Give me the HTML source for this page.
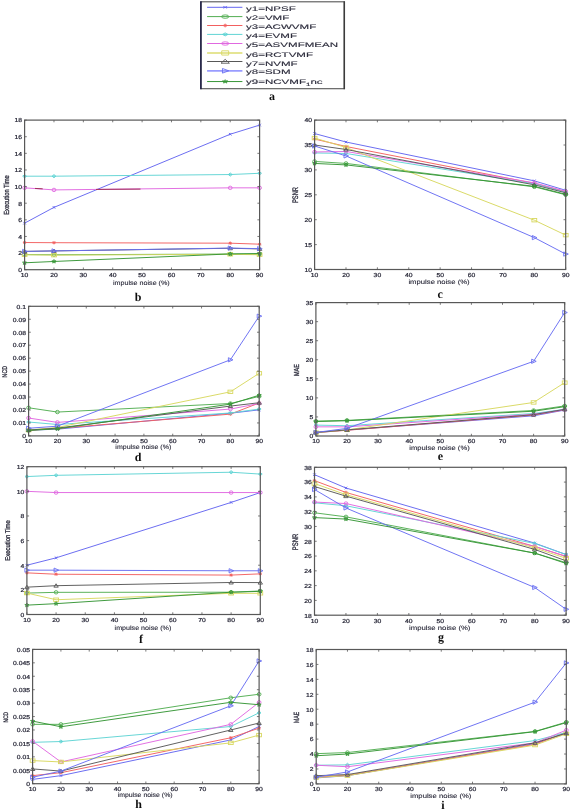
<!DOCTYPE html>
<html><head><meta charset="utf-8"><title>Figure</title>
<style>
html,body{margin:0;padding:0;background:#fff;}
body{width:572px;height:811px;overflow:hidden;font-family:"Liberation Sans",sans-serif;}
svg{display:block;}
</style></head><body>
<svg width="572" height="811" viewBox="0 0 572 811" text-rendering="geometricPrecision">
<defs><filter id="bl" x="0" y="0" width="1" height="1"><feGaussianBlur stdDeviation="0.35"/></filter></defs>
<rect width="572" height="811" fill="#fff"/>
<g filter="url(#bl)">
<rect width="572" height="811" fill="#fff"/>
<rect x="200.9" y="1.8" width="143.4" height="86.9" stroke="#555" stroke-width="1.1" fill="#fff"/>
<line x1="200.9" y1="1.3" x2="200.9" y2="89.2" stroke="#1a1a40" stroke-width="1.5"/>
<line x1="344.3" y1="1.3" x2="344.3" y2="89.2" stroke="#3a3a3a" stroke-width="1.5"/>
<line x1="207.1" y1="7.3" x2="242.4" y2="7.3" stroke="#6466f0" stroke-width="1.0"/>
<g transform="translate(225.2,7.3) scale(1.45,0.7)"><path d="M-1.30,-1.30L1.30,1.30M-1.30,1.30L1.30,-1.30" stroke="#6466f0" stroke-width="0.9" fill="none" vector-effect="non-scaling-stroke"/></g>
<text transform="translate(246,10.80) scale(1.75,1)" font-family="Liberation Sans" font-size="6.6" fill="#2a2a3a" stroke="#2a2a3a" stroke-width="0.12">y1=NPSF</text>
<line x1="207.1" y1="16.6" x2="242.4" y2="16.6" stroke="#52ae52" stroke-width="1.0"/>
<g transform="translate(225.2,16.6) scale(1.95,1.0)"><ellipse cx="0.00" cy="0.00" rx="1.90" ry="1.70" stroke="#52ae52" stroke-width="0.9" fill="none" vector-effect="non-scaling-stroke"/></g>
<text transform="translate(246,19.70) scale(1.75,1)" font-family="Liberation Sans" font-size="6.6" fill="#2a2a3a" stroke="#2a2a3a" stroke-width="0.12">y2=VMF</text>
<line x1="207.1" y1="25.5" x2="242.4" y2="25.5" stroke="#f26060" stroke-width="1.0"/>
<g transform="translate(225.2,25.5) scale(1.0,1.1)"><path d="M-1.70,0.00L1.70,0.00M0.00,-1.70L0.00,1.70M-1.19,-1.19L1.19,1.19M-1.19,1.19L1.19,-1.19" stroke="#f26060" stroke-width="0.9" fill="none" vector-effect="non-scaling-stroke"/></g>
<text transform="translate(246,29.10) scale(1.75,1)" font-family="Liberation Sans" font-size="6.6" fill="#2a2a3a" stroke="#2a2a3a" stroke-width="0.12">y3=ACWVMF</text>
<line x1="207.1" y1="34.4" x2="242.4" y2="34.4" stroke="#60d4d4" stroke-width="1.0"/>
<g transform="translate(225.2,34.4) scale(1.45,0.95)"><path d="M0.00,-1.60L1.90,0.00L0.00,1.60L-1.90,0.00Z" stroke="#60d4d4" stroke-width="0.9" fill="#60d4d4" fill-opacity="0.4" vector-effect="non-scaling-stroke"/></g>
<text transform="translate(246,37.90) scale(1.75,1)" font-family="Liberation Sans" font-size="6.6" fill="#2a2a3a" stroke="#2a2a3a" stroke-width="0.12">y4=EVMF</text>
<line x1="207.1" y1="43.5" x2="242.4" y2="43.5" stroke="#e068e0" stroke-width="1.0"/>
<g transform="translate(225.2,43.5) scale(1.95,1.0)"><ellipse cx="0.00" cy="0.00" rx="1.90" ry="1.70" stroke="#e068e0" stroke-width="0.9" fill="none" vector-effect="non-scaling-stroke"/></g>
<text transform="translate(246,47.00) scale(1.75,1)" font-family="Liberation Sans" font-size="6.6" fill="#2a2a3a" stroke="#2a2a3a" stroke-width="0.12">y5=ASVMFMEAN</text>
<line x1="207.1" y1="52.95" x2="242.4" y2="52.95" stroke="#dcdc70" stroke-width="1.4"/>
<g transform="translate(225.2,52.95) scale(1.45,1.25)"><rect x="-2.40" y="-1.70" width="4.80" height="3.40" stroke="#d8d860" stroke-width="0.9" fill="none" vector-effect="non-scaling-stroke"/></g>
<text transform="translate(246,56.50) scale(1.75,1)" font-family="Liberation Sans" font-size="6.6" fill="#2a2a3a" stroke="#2a2a3a" stroke-width="0.12">y6=RCTVMF</text>
<line x1="207.1" y1="61.5" x2="242.4" y2="61.5" stroke="#585858" stroke-width="1.0"/>
<g transform="translate(225.2,61.5) scale(1.9,1.15)"><path d="M0.00,-1.90L2.20,1.50L-2.20,1.50Z" stroke="#585858" stroke-width="0.9" fill="none" vector-effect="non-scaling-stroke"/></g>
<text transform="translate(246,65.60) scale(1.75,1)" font-family="Liberation Sans" font-size="6.6" fill="#2a2a3a" stroke="#2a2a3a" stroke-width="0.12">y7=NVMF</text>
<line x1="207.1" y1="70.8" x2="242.4" y2="70.8" stroke="#9a9cff" stroke-width="1.8"/>
<g transform="translate(225.2,70.8) scale(1.37,1.1)"><path d="M-2.00,-2.10L2.60,0.00L-2.00,2.10Z" stroke="#686ef2" stroke-width="0.9" fill="none" vector-effect="non-scaling-stroke"/></g>
<text transform="translate(246,74.40) scale(1.75,1)" font-family="Liberation Sans" font-size="6.6" fill="#2a2a3a" stroke="#2a2a3a" stroke-width="0.12">y8=SDM</text>
<line x1="207.1" y1="81.55" x2="242.4" y2="81.55" stroke="#369636" stroke-width="1.0"/>
<g transform="translate(225.2,81.55) scale(1.3,0.95)"><polygon points="0.00,-2.00 0.58,-0.73 2.09,-0.62 0.94,0.28 1.29,1.62 0.00,0.90 -1.29,1.62 -0.94,0.28 -2.09,-0.62 -0.58,-0.73" stroke="#369636" stroke-width="0.8" fill="#369636" fill-opacity="0.5" vector-effect="non-scaling-stroke"/></g>
<text transform="translate(246,83.50) scale(1.75,1)" font-family="Liberation Sans" font-size="6.6" fill="#2a2a3a" stroke="#2a2a3a" stroke-width="0.12">y9=NCVMF<tspan font-size="4.6" dy="2.4">1</tspan><tspan dy="-2.4">nc</tspan></text>
<text x="271.9" y="100.3" font-family="Liberation Serif" font-weight="bold" font-size="12" text-anchor="middle" fill="#111">a</text>
<polyline points="24.60,223.16 53.98,207.37 230.23,134.23 259.60,125.09" stroke="#6466f0" stroke-width="0.95" fill="none"/>
<path d="M23.30,221.86L25.90,224.46M23.30,224.46L25.90,221.86" stroke="#6466f0" stroke-width="0.9" fill="none"/>
<path d="M52.68,206.07L55.28,208.67M52.68,208.67L55.28,206.07" stroke="#6466f0" stroke-width="0.9" fill="none"/>
<path d="M228.93,132.93L231.53,135.53M228.93,135.53L231.53,132.93" stroke="#6466f0" stroke-width="0.9" fill="none"/>
<path d="M258.30,123.79L260.90,126.39M258.30,126.39L260.90,123.79" stroke="#6466f0" stroke-width="0.9" fill="none"/>
<polyline points="24.60,254.57 53.98,254.74 230.23,254.08 259.60,254.32" stroke="#52ae52" stroke-width="0.95" fill="none"/>
<ellipse cx="24.60" cy="254.57" rx="1.90" ry="1.70" stroke="#52ae52" stroke-width="0.9" fill="none"/>
<ellipse cx="53.98" cy="254.74" rx="1.90" ry="1.70" stroke="#52ae52" stroke-width="0.9" fill="none"/>
<ellipse cx="230.23" cy="254.08" rx="1.90" ry="1.70" stroke="#52ae52" stroke-width="0.9" fill="none"/>
<ellipse cx="259.60" cy="254.32" rx="1.90" ry="1.70" stroke="#52ae52" stroke-width="0.9" fill="none"/>
<polyline points="24.60,242.52 53.98,242.69 230.23,243.19 259.60,244.18" stroke="#f26060" stroke-width="0.95" fill="none"/>
<path d="M22.90,242.52L26.30,242.52M24.60,240.82L24.60,244.22M23.41,241.33L25.79,243.71M23.41,243.71L25.79,241.33" stroke="#f26060" stroke-width="0.9" fill="none"/>
<path d="M52.28,242.69L55.68,242.69M53.98,240.99L53.98,244.39M52.79,241.50L55.17,243.88M52.79,243.88L55.17,241.50" stroke="#f26060" stroke-width="0.9" fill="none"/>
<path d="M228.53,243.19L231.93,243.19M230.23,241.49L230.23,244.89M229.04,242.00L231.42,244.38M229.04,244.38L231.42,242.00" stroke="#f26060" stroke-width="0.9" fill="none"/>
<path d="M257.90,244.18L261.30,244.18M259.60,242.48L259.60,245.88M258.41,242.99L260.79,245.37M258.41,245.37L260.79,242.99" stroke="#f26060" stroke-width="0.9" fill="none"/>
<polyline points="24.60,176.20 53.98,176.20 230.23,174.54 259.60,173.29" stroke="#60d4d4" stroke-width="0.95" fill="none"/>
<path d="M24.60,174.60L26.50,176.20L24.60,177.80L22.70,176.20Z" stroke="#60d4d4" stroke-width="0.9" fill="#60d4d4" fill-opacity="0.4"/>
<path d="M53.98,174.60L55.88,176.20L53.98,177.80L52.08,176.20Z" stroke="#60d4d4" stroke-width="0.9" fill="#60d4d4" fill-opacity="0.4"/>
<path d="M230.23,172.94L232.13,174.54L230.23,176.14L228.33,174.54Z" stroke="#60d4d4" stroke-width="0.9" fill="#60d4d4" fill-opacity="0.4"/>
<path d="M259.60,171.69L261.50,173.29L259.60,174.89L257.70,173.29Z" stroke="#60d4d4" stroke-width="0.9" fill="#60d4d4" fill-opacity="0.4"/>
<polyline points="24.60,187.84 53.98,189.91 230.23,187.84 259.60,187.84" stroke="#e068e0" stroke-width="0.95" fill="none"/>
<ellipse cx="24.60" cy="187.84" rx="1.90" ry="1.70" stroke="#e068e0" stroke-width="0.9" fill="none"/>
<ellipse cx="53.98" cy="189.91" rx="1.90" ry="1.70" stroke="#e068e0" stroke-width="0.9" fill="none"/>
<ellipse cx="230.23" cy="187.84" rx="1.90" ry="1.70" stroke="#e068e0" stroke-width="0.9" fill="none"/>
<ellipse cx="259.60" cy="187.84" rx="1.90" ry="1.70" stroke="#e068e0" stroke-width="0.9" fill="none"/>
<polyline points="24.60,254.74 53.98,255.16 230.23,254.32 259.60,254.74" stroke="#d8d860" stroke-width="0.95" fill="none"/>
<rect x="22.20" y="253.04" width="4.80" height="3.40" stroke="#d8d860" stroke-width="0.9" fill="none"/>
<rect x="51.58" y="253.46" width="4.80" height="3.40" stroke="#d8d860" stroke-width="0.9" fill="none"/>
<rect x="227.83" y="252.62" width="4.80" height="3.40" stroke="#d8d860" stroke-width="0.9" fill="none"/>
<rect x="257.20" y="253.04" width="4.80" height="3.40" stroke="#d8d860" stroke-width="0.9" fill="none"/>
<polyline points="24.60,251.42 53.98,250.92 230.23,248.26 259.60,248.92" stroke="#585858" stroke-width="0.95" fill="none"/>
<path d="M24.60,249.52L26.80,252.92L22.40,252.92Z" stroke="#585858" stroke-width="0.9" fill="none"/>
<path d="M53.98,249.02L56.18,252.42L51.78,252.42Z" stroke="#585858" stroke-width="0.9" fill="none"/>
<path d="M230.23,246.36L232.43,249.76L228.03,249.76Z" stroke="#585858" stroke-width="0.9" fill="none"/>
<path d="M259.60,247.02L261.80,250.42L257.40,250.42Z" stroke="#585858" stroke-width="0.9" fill="none"/>
<polyline points="24.60,251.42 53.98,250.92 230.23,248.09 259.60,248.67" stroke="#686ef2" stroke-width="0.95" fill="none"/>
<path d="M22.60,249.32L27.20,251.42L22.60,253.52Z" stroke="#686ef2" stroke-width="0.9" fill="none"/>
<path d="M51.98,248.82L56.58,250.92L51.98,253.02Z" stroke="#686ef2" stroke-width="0.9" fill="none"/>
<path d="M228.23,245.99L232.83,248.09L228.23,250.19Z" stroke="#686ef2" stroke-width="0.9" fill="none"/>
<path d="M257.60,246.57L262.20,248.67L257.60,250.77Z" stroke="#686ef2" stroke-width="0.9" fill="none"/>
<polyline points="24.60,262.80 53.98,261.47 230.23,253.91 259.60,253.49" stroke="#369636" stroke-width="0.95" fill="none"/>
<polygon points="24.60,260.80 25.18,262.07 26.69,262.18 25.54,263.08 25.89,264.42 24.60,263.70 23.31,264.42 23.66,263.08 22.51,262.18 24.02,262.07" stroke="#369636" stroke-width="0.8" fill="#369636" fill-opacity="0.5"/>
<polygon points="53.98,259.47 54.56,260.74 56.07,260.85 54.92,261.75 55.27,263.09 53.98,262.37 52.68,263.09 53.03,261.75 51.88,260.85 53.39,260.74" stroke="#369636" stroke-width="0.8" fill="#369636" fill-opacity="0.5"/>
<polygon points="230.23,251.91 230.81,253.18 232.32,253.29 231.17,254.19 231.52,255.53 230.23,254.81 228.93,255.53 229.28,254.19 228.13,253.29 229.64,253.18" stroke="#369636" stroke-width="0.8" fill="#369636" fill-opacity="0.5"/>
<polygon points="259.60,251.49 260.18,252.77 261.69,252.88 260.54,253.77 260.89,255.11 259.60,254.39 258.31,255.11 258.66,253.77 257.51,252.88 259.02,252.77" stroke="#369636" stroke-width="0.8" fill="#369636" fill-opacity="0.5"/>
<line x1="96" y1="189.41" x2="140.5" y2="189.08" stroke="#a0305a" stroke-width="1.0"/>
<line x1="35" y1="188.42" x2="42.7" y2="188.83" stroke="#a0305a" stroke-width="1.0"/>
<rect x="24.60" y="120.10" width="235.00" height="149.60" stroke="#585858" stroke-width="1.2" fill="none"/>
<path d="M24.60,269.70v-2.2M24.60,120.10v2.2M53.98,269.70v-2.2M53.98,120.10v2.2M83.35,269.70v-2.2M83.35,120.10v2.2M112.73,269.70v-2.2M112.73,120.10v2.2M142.10,269.70v-2.2M142.10,120.10v2.2M171.48,269.70v-2.2M171.48,120.10v2.2M200.85,269.70v-2.2M200.85,120.10v2.2M230.23,269.70v-2.2M230.23,120.10v2.2M259.60,269.70v-2.2M259.60,120.10v2.2M24.60,269.70h2.2M259.60,269.70h-2.2M24.60,253.08h2.2M259.60,253.08h-2.2M24.60,236.46h2.2M259.60,236.46h-2.2M24.60,219.83h2.2M259.60,219.83h-2.2M24.60,203.21h2.2M259.60,203.21h-2.2M24.60,186.59h2.2M259.60,186.59h-2.2M24.60,169.97h2.2M259.60,169.97h-2.2M24.60,153.34h2.2M259.60,153.34h-2.2M24.60,136.72h2.2M259.60,136.72h-2.2M24.60,120.10h2.2M259.60,120.10h-2.2" stroke="#585858" stroke-width="0.8" fill="none"/>
<text transform="translate(24.60,277.10) scale(1.17,1)" font-family="Liberation Sans" font-size="5.8" font-weight="normal" text-anchor="middle" fill="#2a2a3a" stroke="#2a2a3a" stroke-width="0.22">10</text>
<text transform="translate(53.98,277.10) scale(1.17,1)" font-family="Liberation Sans" font-size="5.8" font-weight="normal" text-anchor="middle" fill="#2a2a3a" stroke="#2a2a3a" stroke-width="0.22">20</text>
<text transform="translate(83.35,277.10) scale(1.17,1)" font-family="Liberation Sans" font-size="5.8" font-weight="normal" text-anchor="middle" fill="#2a2a3a" stroke="#2a2a3a" stroke-width="0.22">30</text>
<text transform="translate(112.73,277.10) scale(1.17,1)" font-family="Liberation Sans" font-size="5.8" font-weight="normal" text-anchor="middle" fill="#2a2a3a" stroke="#2a2a3a" stroke-width="0.22">40</text>
<text transform="translate(142.10,277.10) scale(1.17,1)" font-family="Liberation Sans" font-size="5.8" font-weight="normal" text-anchor="middle" fill="#2a2a3a" stroke="#2a2a3a" stroke-width="0.22">50</text>
<text transform="translate(171.48,277.10) scale(1.17,1)" font-family="Liberation Sans" font-size="5.8" font-weight="normal" text-anchor="middle" fill="#2a2a3a" stroke="#2a2a3a" stroke-width="0.22">60</text>
<text transform="translate(200.85,277.10) scale(1.17,1)" font-family="Liberation Sans" font-size="5.8" font-weight="normal" text-anchor="middle" fill="#2a2a3a" stroke="#2a2a3a" stroke-width="0.22">70</text>
<text transform="translate(230.23,277.10) scale(1.17,1)" font-family="Liberation Sans" font-size="5.8" font-weight="normal" text-anchor="middle" fill="#2a2a3a" stroke="#2a2a3a" stroke-width="0.22">80</text>
<text transform="translate(259.60,277.10) scale(1.17,1)" font-family="Liberation Sans" font-size="5.8" font-weight="normal" text-anchor="middle" fill="#2a2a3a" stroke="#2a2a3a" stroke-width="0.22">90</text>
<text transform="translate(22.00,272.00) scale(1.17,1)" font-family="Liberation Sans" font-size="5.8" font-weight="normal" text-anchor="end" fill="#2a2a3a" stroke="#2a2a3a" stroke-width="0.22">0</text>
<text transform="translate(22.00,255.38) scale(1.17,1)" font-family="Liberation Sans" font-size="5.8" font-weight="normal" text-anchor="end" fill="#2a2a3a" stroke="#2a2a3a" stroke-width="0.22">2</text>
<text transform="translate(22.00,238.76) scale(1.17,1)" font-family="Liberation Sans" font-size="5.8" font-weight="normal" text-anchor="end" fill="#2a2a3a" stroke="#2a2a3a" stroke-width="0.22">4</text>
<text transform="translate(22.00,222.13) scale(1.17,1)" font-family="Liberation Sans" font-size="5.8" font-weight="normal" text-anchor="end" fill="#2a2a3a" stroke="#2a2a3a" stroke-width="0.22">6</text>
<text transform="translate(22.00,205.51) scale(1.17,1)" font-family="Liberation Sans" font-size="5.8" font-weight="normal" text-anchor="end" fill="#2a2a3a" stroke="#2a2a3a" stroke-width="0.22">8</text>
<text transform="translate(22.00,188.89) scale(1.17,1)" font-family="Liberation Sans" font-size="5.8" font-weight="normal" text-anchor="end" fill="#2a2a3a" stroke="#2a2a3a" stroke-width="0.22">10</text>
<text transform="translate(22.00,172.27) scale(1.17,1)" font-family="Liberation Sans" font-size="5.8" font-weight="normal" text-anchor="end" fill="#2a2a3a" stroke="#2a2a3a" stroke-width="0.22">12</text>
<text transform="translate(22.00,155.64) scale(1.17,1)" font-family="Liberation Sans" font-size="5.8" font-weight="normal" text-anchor="end" fill="#2a2a3a" stroke="#2a2a3a" stroke-width="0.22">14</text>
<text transform="translate(22.00,139.02) scale(1.17,1)" font-family="Liberation Sans" font-size="5.8" font-weight="normal" text-anchor="end" fill="#2a2a3a" stroke="#2a2a3a" stroke-width="0.22">16</text>
<text transform="translate(22.00,122.40) scale(1.17,1)" font-family="Liberation Sans" font-size="5.8" font-weight="normal" text-anchor="end" fill="#2a2a3a" stroke="#2a2a3a" stroke-width="0.22">18</text>
<text transform="translate(141.30,284.80) scale(1.1349,1)" font-family="Liberation Sans" font-size="6.3" font-weight="normal" text-anchor="middle" fill="#2a2a3a" stroke="#2a2a3a" stroke-width="0.12">impulse noise (%)</text>
<text transform="translate(8.90,195.00) rotate(-90) scale(0.782,1)" font-family="Liberation Sans" font-size="7.4" text-anchor="middle" fill="#2a2a3a" stroke="#2a2a3a" stroke-width="0.3">Execution Time</text>
<text x="138.20" y="300.50" font-family="Liberation Serif" font-weight="bold" font-size="12" text-anchor="middle" fill="#111">b</text>
<polyline points="314.60,133.55 345.99,142.01 534.31,180.86 565.70,190.32" stroke="#6466f0" stroke-width="0.95" fill="none"/>
<path d="M313.30,132.25L315.90,134.85M313.30,134.85L315.90,132.25" stroke="#6466f0" stroke-width="0.9" fill="none"/>
<path d="M344.69,140.71L347.29,143.31M344.69,143.31L347.29,140.71" stroke="#6466f0" stroke-width="0.9" fill="none"/>
<path d="M533.01,179.56L535.61,182.16M533.01,182.16L535.61,179.56" stroke="#6466f0" stroke-width="0.9" fill="none"/>
<path d="M564.40,189.02L567.00,191.62M564.40,191.62L567.00,189.02" stroke="#6466f0" stroke-width="0.9" fill="none"/>
<polyline points="314.60,161.43 345.99,163.43 534.31,186.83 565.70,194.80" stroke="#52ae52" stroke-width="0.95" fill="none"/>
<ellipse cx="314.60" cy="161.43" rx="1.90" ry="1.70" stroke="#52ae52" stroke-width="0.9" fill="none"/>
<ellipse cx="345.99" cy="163.43" rx="1.90" ry="1.70" stroke="#52ae52" stroke-width="0.9" fill="none"/>
<ellipse cx="534.31" cy="186.83" rx="1.90" ry="1.70" stroke="#52ae52" stroke-width="0.9" fill="none"/>
<ellipse cx="565.70" cy="194.80" rx="1.90" ry="1.70" stroke="#52ae52" stroke-width="0.9" fill="none"/>
<polyline points="314.60,139.02 345.99,146.49 534.31,183.35 565.70,191.81" stroke="#f26060" stroke-width="0.95" fill="none"/>
<path d="M312.90,139.02L316.30,139.02M314.60,137.32L314.60,140.72M313.41,137.83L315.79,140.21M313.41,140.21L315.79,137.83" stroke="#f26060" stroke-width="0.9" fill="none"/>
<path d="M344.29,146.49L347.69,146.49M345.99,144.79L345.99,148.19M344.80,145.30L347.18,147.68M344.80,147.68L347.18,145.30" stroke="#f26060" stroke-width="0.9" fill="none"/>
<path d="M532.61,183.35L536.01,183.35M534.31,181.65L534.31,185.05M533.12,182.16L535.50,184.54M533.12,184.54L535.50,182.16" stroke="#f26060" stroke-width="0.9" fill="none"/>
<path d="M564.00,191.81L567.40,191.81M565.70,190.11L565.70,193.51M564.51,190.62L566.89,193.00M564.51,193.00L566.89,190.62" stroke="#f26060" stroke-width="0.9" fill="none"/>
<polyline points="314.60,152.97 345.99,153.47 534.31,183.84 565.70,192.31" stroke="#60d4d4" stroke-width="0.95" fill="none"/>
<path d="M314.60,151.37L316.50,152.97L314.60,154.57L312.70,152.97Z" stroke="#60d4d4" stroke-width="0.9" fill="#60d4d4" fill-opacity="0.4"/>
<path d="M345.99,151.87L347.89,153.47L345.99,155.07L344.09,153.47Z" stroke="#60d4d4" stroke-width="0.9" fill="#60d4d4" fill-opacity="0.4"/>
<path d="M534.31,182.24L536.21,183.84L534.31,185.44L532.41,183.84Z" stroke="#60d4d4" stroke-width="0.9" fill="#60d4d4" fill-opacity="0.4"/>
<path d="M565.70,190.71L567.60,192.31L565.70,193.91L563.80,192.31Z" stroke="#60d4d4" stroke-width="0.9" fill="#60d4d4" fill-opacity="0.4"/>
<polyline points="314.60,151.97 345.99,151.47 534.31,182.85 565.70,191.31" stroke="#e068e0" stroke-width="0.95" fill="none"/>
<ellipse cx="314.60" cy="151.97" rx="1.90" ry="1.70" stroke="#e068e0" stroke-width="0.9" fill="none"/>
<ellipse cx="345.99" cy="151.47" rx="1.90" ry="1.70" stroke="#e068e0" stroke-width="0.9" fill="none"/>
<ellipse cx="534.31" cy="182.85" rx="1.90" ry="1.70" stroke="#e068e0" stroke-width="0.9" fill="none"/>
<ellipse cx="565.70" cy="191.31" rx="1.90" ry="1.70" stroke="#e068e0" stroke-width="0.9" fill="none"/>
<polyline points="314.60,138.03 345.99,147.49 534.31,220.20 565.70,235.14" stroke="#d8d860" stroke-width="0.95" fill="none"/>
<rect x="312.20" y="136.33" width="4.80" height="3.40" stroke="#d8d860" stroke-width="0.9" fill="none"/>
<rect x="343.59" y="145.79" width="4.80" height="3.40" stroke="#d8d860" stroke-width="0.9" fill="none"/>
<rect x="531.91" y="218.50" width="4.80" height="3.40" stroke="#d8d860" stroke-width="0.9" fill="none"/>
<rect x="563.30" y="233.44" width="4.80" height="3.40" stroke="#d8d860" stroke-width="0.9" fill="none"/>
<polyline points="314.60,145.00 345.99,149.48 534.31,184.84 565.70,192.81" stroke="#585858" stroke-width="0.95" fill="none"/>
<path d="M314.60,143.10L316.80,146.50L312.40,146.50Z" stroke="#585858" stroke-width="0.9" fill="none"/>
<path d="M345.99,147.58L348.19,150.98L343.79,150.98Z" stroke="#585858" stroke-width="0.9" fill="none"/>
<path d="M534.31,182.94L536.51,186.34L532.11,186.34Z" stroke="#585858" stroke-width="0.9" fill="none"/>
<path d="M565.70,190.91L567.90,194.31L563.50,194.31Z" stroke="#585858" stroke-width="0.9" fill="none"/>
<polyline points="314.60,146.00 345.99,155.96 534.31,237.63 565.70,254.06" stroke="#686ef2" stroke-width="0.95" fill="none"/>
<path d="M312.60,143.90L317.20,146.00L312.60,148.10Z" stroke="#686ef2" stroke-width="0.9" fill="none"/>
<path d="M343.99,153.86L348.59,155.96L343.99,158.06Z" stroke="#686ef2" stroke-width="0.9" fill="none"/>
<path d="M532.31,235.53L536.91,237.63L532.31,239.73Z" stroke="#686ef2" stroke-width="0.9" fill="none"/>
<path d="M563.70,251.96L568.30,254.06L563.70,256.16Z" stroke="#686ef2" stroke-width="0.9" fill="none"/>
<polyline points="314.60,163.43 345.99,164.92 534.31,186.33 565.70,194.30" stroke="#369636" stroke-width="0.95" fill="none"/>
<polygon points="314.60,161.43 315.18,162.70 316.69,162.81 315.54,163.70 315.89,165.04 314.60,164.33 313.31,165.04 313.66,163.70 312.51,162.81 314.02,162.70" stroke="#369636" stroke-width="0.8" fill="#369636" fill-opacity="0.5"/>
<polygon points="345.99,162.92 346.57,164.19 348.08,164.30 346.93,165.20 347.28,166.54 345.99,165.82 344.69,166.54 345.05,165.20 343.90,164.30 345.41,164.19" stroke="#369636" stroke-width="0.8" fill="#369636" fill-opacity="0.5"/>
<polygon points="534.31,184.33 534.89,185.61 536.40,185.72 535.25,186.61 535.61,187.95 534.31,187.23 533.02,187.95 533.37,186.61 532.22,185.72 533.73,185.61" stroke="#369636" stroke-width="0.8" fill="#369636" fill-opacity="0.5"/>
<polygon points="565.70,192.30 566.28,193.57 567.79,193.68 566.64,194.58 566.99,195.92 565.70,195.20 564.41,195.92 564.76,194.58 563.61,193.68 565.12,193.57" stroke="#369636" stroke-width="0.8" fill="#369636" fill-opacity="0.5"/>
<rect x="314.60" y="120.10" width="251.10" height="149.40" stroke="#585858" stroke-width="1.2" fill="none"/>
<path d="M314.60,269.50v-2.2M314.60,120.10v2.2M345.99,269.50v-2.2M345.99,120.10v2.2M377.38,269.50v-2.2M377.38,120.10v2.2M408.76,269.50v-2.2M408.76,120.10v2.2M440.15,269.50v-2.2M440.15,120.10v2.2M471.54,269.50v-2.2M471.54,120.10v2.2M502.93,269.50v-2.2M502.93,120.10v2.2M534.31,269.50v-2.2M534.31,120.10v2.2M565.70,269.50v-2.2M565.70,120.10v2.2M314.60,269.50h2.2M565.70,269.50h-2.2M314.60,244.60h2.2M565.70,244.60h-2.2M314.60,219.70h2.2M565.70,219.70h-2.2M314.60,194.80h2.2M565.70,194.80h-2.2M314.60,169.90h2.2M565.70,169.90h-2.2M314.60,145.00h2.2M565.70,145.00h-2.2M314.60,120.10h2.2M565.70,120.10h-2.2" stroke="#585858" stroke-width="0.8" fill="none"/>
<text transform="translate(314.60,276.90) scale(1.17,1)" font-family="Liberation Sans" font-size="5.8" font-weight="normal" text-anchor="middle" fill="#2a2a3a" stroke="#2a2a3a" stroke-width="0.22">10</text>
<text transform="translate(345.99,276.90) scale(1.17,1)" font-family="Liberation Sans" font-size="5.8" font-weight="normal" text-anchor="middle" fill="#2a2a3a" stroke="#2a2a3a" stroke-width="0.22">20</text>
<text transform="translate(377.38,276.90) scale(1.17,1)" font-family="Liberation Sans" font-size="5.8" font-weight="normal" text-anchor="middle" fill="#2a2a3a" stroke="#2a2a3a" stroke-width="0.22">30</text>
<text transform="translate(408.76,276.90) scale(1.17,1)" font-family="Liberation Sans" font-size="5.8" font-weight="normal" text-anchor="middle" fill="#2a2a3a" stroke="#2a2a3a" stroke-width="0.22">40</text>
<text transform="translate(440.15,276.90) scale(1.17,1)" font-family="Liberation Sans" font-size="5.8" font-weight="normal" text-anchor="middle" fill="#2a2a3a" stroke="#2a2a3a" stroke-width="0.22">50</text>
<text transform="translate(471.54,276.90) scale(1.17,1)" font-family="Liberation Sans" font-size="5.8" font-weight="normal" text-anchor="middle" fill="#2a2a3a" stroke="#2a2a3a" stroke-width="0.22">60</text>
<text transform="translate(502.93,276.90) scale(1.17,1)" font-family="Liberation Sans" font-size="5.8" font-weight="normal" text-anchor="middle" fill="#2a2a3a" stroke="#2a2a3a" stroke-width="0.22">70</text>
<text transform="translate(534.31,276.90) scale(1.17,1)" font-family="Liberation Sans" font-size="5.8" font-weight="normal" text-anchor="middle" fill="#2a2a3a" stroke="#2a2a3a" stroke-width="0.22">80</text>
<text transform="translate(565.70,276.90) scale(1.17,1)" font-family="Liberation Sans" font-size="5.8" font-weight="normal" text-anchor="middle" fill="#2a2a3a" stroke="#2a2a3a" stroke-width="0.22">90</text>
<text transform="translate(312.00,271.80) scale(1.17,1)" font-family="Liberation Sans" font-size="5.8" font-weight="normal" text-anchor="end" fill="#2a2a3a" stroke="#2a2a3a" stroke-width="0.22">10</text>
<text transform="translate(312.00,246.90) scale(1.17,1)" font-family="Liberation Sans" font-size="5.8" font-weight="normal" text-anchor="end" fill="#2a2a3a" stroke="#2a2a3a" stroke-width="0.22">15</text>
<text transform="translate(312.00,222.00) scale(1.17,1)" font-family="Liberation Sans" font-size="5.8" font-weight="normal" text-anchor="end" fill="#2a2a3a" stroke="#2a2a3a" stroke-width="0.22">20</text>
<text transform="translate(312.00,197.10) scale(1.17,1)" font-family="Liberation Sans" font-size="5.8" font-weight="normal" text-anchor="end" fill="#2a2a3a" stroke="#2a2a3a" stroke-width="0.22">25</text>
<text transform="translate(312.00,172.20) scale(1.17,1)" font-family="Liberation Sans" font-size="5.8" font-weight="normal" text-anchor="end" fill="#2a2a3a" stroke="#2a2a3a" stroke-width="0.22">30</text>
<text transform="translate(312.00,147.30) scale(1.17,1)" font-family="Liberation Sans" font-size="5.8" font-weight="normal" text-anchor="end" fill="#2a2a3a" stroke="#2a2a3a" stroke-width="0.22">35</text>
<text transform="translate(312.00,122.40) scale(1.17,1)" font-family="Liberation Sans" font-size="5.8" font-weight="normal" text-anchor="end" fill="#2a2a3a" stroke="#2a2a3a" stroke-width="0.22">40</text>
<text transform="translate(439.00,284.30) scale(1.224,1)" font-family="Liberation Sans" font-size="6.3" font-weight="normal" text-anchor="middle" fill="#2a2a3a" stroke="#2a2a3a" stroke-width="0.12">impulse noise (%)</text>
<text transform="translate(297.52,195.00) rotate(-90) scale(0.724,1)" font-family="Liberation Sans" font-size="8.0" text-anchor="middle" fill="#2a2a3a" stroke="#2a2a3a" stroke-width="0.3">PSNR</text>
<text x="440.10" y="297.80" font-family="Liberation Serif" font-weight="bold" font-size="12" text-anchor="middle" fill="#111">c</text>
<polyline points="28.60,430.20 57.42,429.16 230.38,413.22 259.20,409.85" stroke="#6466f0" stroke-width="0.95" fill="none"/>
<path d="M27.30,428.90L29.90,431.50M27.30,431.50L29.90,428.90" stroke="#6466f0" stroke-width="0.9" fill="none"/>
<path d="M56.12,427.86L58.72,430.46M56.12,430.46L58.72,427.86" stroke="#6466f0" stroke-width="0.9" fill="none"/>
<path d="M229.07,411.92L231.68,414.52M229.07,414.52L231.68,411.92" stroke="#6466f0" stroke-width="0.9" fill="none"/>
<path d="M257.90,408.55L260.50,411.15M257.90,411.15L260.50,408.55" stroke="#6466f0" stroke-width="0.9" fill="none"/>
<polyline points="28.60,407.78 57.42,412.05 230.38,403.50 259.20,396.37" stroke="#52ae52" stroke-width="0.95" fill="none"/>
<ellipse cx="28.60" cy="407.78" rx="1.90" ry="1.70" stroke="#52ae52" stroke-width="0.9" fill="none"/>
<ellipse cx="57.42" cy="412.05" rx="1.90" ry="1.70" stroke="#52ae52" stroke-width="0.9" fill="none"/>
<ellipse cx="230.38" cy="403.50" rx="1.90" ry="1.70" stroke="#52ae52" stroke-width="0.9" fill="none"/>
<ellipse cx="259.20" cy="396.37" rx="1.90" ry="1.70" stroke="#52ae52" stroke-width="0.9" fill="none"/>
<polyline points="28.60,430.33 57.42,428.38 230.38,414.13 259.20,402.98" stroke="#f26060" stroke-width="0.95" fill="none"/>
<path d="M26.90,430.33L30.30,430.33M28.60,428.63L28.60,432.03M27.41,429.14L29.79,431.52M27.41,431.52L29.79,429.14" stroke="#f26060" stroke-width="0.9" fill="none"/>
<path d="M55.72,428.38L59.12,428.38M57.42,426.68L57.42,430.08M56.23,427.19L58.61,429.57M56.23,429.57L58.61,427.19" stroke="#f26060" stroke-width="0.9" fill="none"/>
<path d="M228.68,414.13L232.07,414.13M230.38,412.43L230.38,415.83M229.19,412.94L231.56,415.32M229.19,415.32L231.56,412.94" stroke="#f26060" stroke-width="0.9" fill="none"/>
<path d="M257.50,402.98L260.90,402.98M259.20,401.28L259.20,404.68M258.01,401.79L260.39,404.17M258.01,404.17L260.39,401.79" stroke="#f26060" stroke-width="0.9" fill="none"/>
<polyline points="28.60,422.03 57.42,424.50 230.38,412.96 259.20,409.07" stroke="#60d4d4" stroke-width="0.95" fill="none"/>
<path d="M28.60,420.43L30.50,422.03L28.60,423.63L26.70,422.03Z" stroke="#60d4d4" stroke-width="0.9" fill="#60d4d4" fill-opacity="0.4"/>
<path d="M57.42,422.90L59.32,424.50L57.42,426.10L55.52,424.50Z" stroke="#60d4d4" stroke-width="0.9" fill="#60d4d4" fill-opacity="0.4"/>
<path d="M230.38,411.36L232.28,412.96L230.38,414.56L228.47,412.96Z" stroke="#60d4d4" stroke-width="0.9" fill="#60d4d4" fill-opacity="0.4"/>
<path d="M259.20,407.47L261.10,409.07L259.20,410.67L257.30,409.07Z" stroke="#60d4d4" stroke-width="0.9" fill="#60d4d4" fill-opacity="0.4"/>
<polyline points="28.60,418.02 57.42,422.42 230.38,409.07 259.20,403.50" stroke="#e068e0" stroke-width="0.95" fill="none"/>
<ellipse cx="28.60" cy="418.02" rx="1.90" ry="1.70" stroke="#e068e0" stroke-width="0.9" fill="none"/>
<ellipse cx="57.42" cy="422.42" rx="1.90" ry="1.70" stroke="#e068e0" stroke-width="0.9" fill="none"/>
<ellipse cx="230.38" cy="409.07" rx="1.90" ry="1.70" stroke="#e068e0" stroke-width="0.9" fill="none"/>
<ellipse cx="259.20" cy="403.50" rx="1.90" ry="1.70" stroke="#e068e0" stroke-width="0.9" fill="none"/>
<polyline points="28.60,430.07 57.42,427.48 230.38,391.84 259.20,373.30" stroke="#d8d860" stroke-width="0.95" fill="none"/>
<rect x="26.20" y="428.37" width="4.80" height="3.40" stroke="#d8d860" stroke-width="0.9" fill="none"/>
<rect x="55.02" y="425.78" width="4.80" height="3.40" stroke="#d8d860" stroke-width="0.9" fill="none"/>
<rect x="227.97" y="390.14" width="4.80" height="3.40" stroke="#d8d860" stroke-width="0.9" fill="none"/>
<rect x="256.80" y="371.60" width="4.80" height="3.40" stroke="#d8d860" stroke-width="0.9" fill="none"/>
<polyline points="28.60,430.07 57.42,428.12 230.38,406.09 259.20,402.72" stroke="#585858" stroke-width="0.95" fill="none"/>
<path d="M28.60,428.17L30.80,431.57L26.40,431.57Z" stroke="#585858" stroke-width="0.9" fill="none"/>
<path d="M57.42,426.22L59.62,429.62L55.22,429.62Z" stroke="#585858" stroke-width="0.9" fill="none"/>
<path d="M230.38,404.19L232.57,407.59L228.18,407.59Z" stroke="#585858" stroke-width="0.9" fill="none"/>
<path d="M259.20,400.82L261.40,404.22L257.00,404.22Z" stroke="#585858" stroke-width="0.9" fill="none"/>
<polyline points="28.60,428.25 57.42,426.18 230.38,359.82 259.20,316.15" stroke="#686ef2" stroke-width="0.95" fill="none"/>
<path d="M26.60,426.15L31.20,428.25L26.60,430.35Z" stroke="#686ef2" stroke-width="0.9" fill="none"/>
<path d="M55.42,424.08L60.02,426.18L55.42,428.28Z" stroke="#686ef2" stroke-width="0.9" fill="none"/>
<path d="M228.38,357.72L232.97,359.82L228.38,361.92Z" stroke="#686ef2" stroke-width="0.9" fill="none"/>
<path d="M257.20,314.05L261.80,316.15L257.20,318.25Z" stroke="#686ef2" stroke-width="0.9" fill="none"/>
<polyline points="28.60,430.46 57.42,428.77 230.38,404.15 259.20,395.21" stroke="#369636" stroke-width="0.95" fill="none"/>
<polygon points="28.60,428.46 29.18,429.73 30.69,429.84 29.54,430.73 29.89,432.07 28.60,431.36 27.31,432.07 27.66,430.73 26.51,429.84 28.02,429.73" stroke="#369636" stroke-width="0.8" fill="#369636" fill-opacity="0.5"/>
<polygon points="57.42,426.77 58.01,428.04 59.52,428.15 58.37,429.05 58.72,430.39 57.42,429.67 56.13,430.39 56.48,429.05 55.33,428.15 56.84,428.04" stroke="#369636" stroke-width="0.8" fill="#369636" fill-opacity="0.5"/>
<polygon points="230.38,402.15 230.96,403.42 232.47,403.53 231.32,404.43 231.67,405.77 230.38,405.05 229.08,405.77 229.43,404.43 228.28,403.53 229.79,403.42" stroke="#369636" stroke-width="0.8" fill="#369636" fill-opacity="0.5"/>
<polygon points="259.20,393.21 259.78,394.48 261.29,394.59 260.14,395.48 260.49,396.82 259.20,396.11 257.91,396.82 258.26,395.48 257.11,394.59 258.62,394.48" stroke="#369636" stroke-width="0.8" fill="#369636" fill-opacity="0.5"/>
<rect x="28.60" y="306.30" width="230.60" height="129.60" stroke="#585858" stroke-width="1.2" fill="none"/>
<path d="M28.60,435.90v-2.2M28.60,306.30v2.2M57.42,435.90v-2.2M57.42,306.30v2.2M86.25,435.90v-2.2M86.25,306.30v2.2M115.07,435.90v-2.2M115.07,306.30v2.2M143.90,435.90v-2.2M143.90,306.30v2.2M172.72,435.90v-2.2M172.72,306.30v2.2M201.55,435.90v-2.2M201.55,306.30v2.2M230.38,435.90v-2.2M230.38,306.30v2.2M259.20,435.90v-2.2M259.20,306.30v2.2M28.60,435.90h2.2M259.20,435.90h-2.2M28.60,422.94h2.2M259.20,422.94h-2.2M28.60,409.98h2.2M259.20,409.98h-2.2M28.60,397.02h2.2M259.20,397.02h-2.2M28.60,384.06h2.2M259.20,384.06h-2.2M28.60,371.10h2.2M259.20,371.10h-2.2M28.60,358.14h2.2M259.20,358.14h-2.2M28.60,345.18h2.2M259.20,345.18h-2.2M28.60,332.22h2.2M259.20,332.22h-2.2M28.60,319.26h2.2M259.20,319.26h-2.2M28.60,306.30h2.2M259.20,306.30h-2.2" stroke="#585858" stroke-width="0.8" fill="none"/>
<text transform="translate(28.60,443.30) scale(1.17,1)" font-family="Liberation Sans" font-size="5.8" font-weight="normal" text-anchor="middle" fill="#2a2a3a" stroke="#2a2a3a" stroke-width="0.22">10</text>
<text transform="translate(57.42,443.30) scale(1.17,1)" font-family="Liberation Sans" font-size="5.8" font-weight="normal" text-anchor="middle" fill="#2a2a3a" stroke="#2a2a3a" stroke-width="0.22">20</text>
<text transform="translate(86.25,443.30) scale(1.17,1)" font-family="Liberation Sans" font-size="5.8" font-weight="normal" text-anchor="middle" fill="#2a2a3a" stroke="#2a2a3a" stroke-width="0.22">30</text>
<text transform="translate(115.07,443.30) scale(1.17,1)" font-family="Liberation Sans" font-size="5.8" font-weight="normal" text-anchor="middle" fill="#2a2a3a" stroke="#2a2a3a" stroke-width="0.22">40</text>
<text transform="translate(143.90,443.30) scale(1.17,1)" font-family="Liberation Sans" font-size="5.8" font-weight="normal" text-anchor="middle" fill="#2a2a3a" stroke="#2a2a3a" stroke-width="0.22">50</text>
<text transform="translate(172.72,443.30) scale(1.17,1)" font-family="Liberation Sans" font-size="5.8" font-weight="normal" text-anchor="middle" fill="#2a2a3a" stroke="#2a2a3a" stroke-width="0.22">60</text>
<text transform="translate(201.55,443.30) scale(1.17,1)" font-family="Liberation Sans" font-size="5.8" font-weight="normal" text-anchor="middle" fill="#2a2a3a" stroke="#2a2a3a" stroke-width="0.22">70</text>
<text transform="translate(230.38,443.30) scale(1.17,1)" font-family="Liberation Sans" font-size="5.8" font-weight="normal" text-anchor="middle" fill="#2a2a3a" stroke="#2a2a3a" stroke-width="0.22">80</text>
<text transform="translate(259.20,443.30) scale(1.17,1)" font-family="Liberation Sans" font-size="5.8" font-weight="normal" text-anchor="middle" fill="#2a2a3a" stroke="#2a2a3a" stroke-width="0.22">90</text>
<text transform="translate(26.00,438.20) scale(1.17,1)" font-family="Liberation Sans" font-size="5.8" font-weight="normal" text-anchor="end" fill="#2a2a3a" stroke="#2a2a3a" stroke-width="0.22">0</text>
<text transform="translate(26.00,425.24) scale(1.17,1)" font-family="Liberation Sans" font-size="5.8" font-weight="normal" text-anchor="end" fill="#2a2a3a" stroke="#2a2a3a" stroke-width="0.22">0.01</text>
<text transform="translate(26.00,412.28) scale(1.17,1)" font-family="Liberation Sans" font-size="5.8" font-weight="normal" text-anchor="end" fill="#2a2a3a" stroke="#2a2a3a" stroke-width="0.22">0.02</text>
<text transform="translate(26.00,399.32) scale(1.17,1)" font-family="Liberation Sans" font-size="5.8" font-weight="normal" text-anchor="end" fill="#2a2a3a" stroke="#2a2a3a" stroke-width="0.22">0.03</text>
<text transform="translate(26.00,386.36) scale(1.17,1)" font-family="Liberation Sans" font-size="5.8" font-weight="normal" text-anchor="end" fill="#2a2a3a" stroke="#2a2a3a" stroke-width="0.22">0.04</text>
<text transform="translate(26.00,373.40) scale(1.17,1)" font-family="Liberation Sans" font-size="5.8" font-weight="normal" text-anchor="end" fill="#2a2a3a" stroke="#2a2a3a" stroke-width="0.22">0.05</text>
<text transform="translate(26.00,360.44) scale(1.17,1)" font-family="Liberation Sans" font-size="5.8" font-weight="normal" text-anchor="end" fill="#2a2a3a" stroke="#2a2a3a" stroke-width="0.22">0.06</text>
<text transform="translate(26.00,347.48) scale(1.17,1)" font-family="Liberation Sans" font-size="5.8" font-weight="normal" text-anchor="end" fill="#2a2a3a" stroke="#2a2a3a" stroke-width="0.22">0.07</text>
<text transform="translate(26.00,334.52) scale(1.17,1)" font-family="Liberation Sans" font-size="5.8" font-weight="normal" text-anchor="end" fill="#2a2a3a" stroke="#2a2a3a" stroke-width="0.22">0.08</text>
<text transform="translate(26.00,321.56) scale(1.17,1)" font-family="Liberation Sans" font-size="5.8" font-weight="normal" text-anchor="end" fill="#2a2a3a" stroke="#2a2a3a" stroke-width="0.22">0.09</text>
<text transform="translate(26.00,308.60) scale(1.17,1)" font-family="Liberation Sans" font-size="5.8" font-weight="normal" text-anchor="end" fill="#2a2a3a" stroke="#2a2a3a" stroke-width="0.22">0.1</text>
<text transform="translate(143.30,449.30) scale(1.1169,1)" font-family="Liberation Sans" font-size="6.3" font-weight="normal" text-anchor="middle" fill="#2a2a3a" stroke="#2a2a3a" stroke-width="0.12">impulse noise (%)</text>
<text transform="translate(6.72,371.70) rotate(-90) scale(0.763,1)" font-family="Liberation Sans" font-size="6.9" text-anchor="middle" fill="#2a2a3a" stroke="#2a2a3a" stroke-width="0.3">NCD</text>
<text x="138.00" y="460.80" font-family="Liberation Serif" font-weight="bold" font-size="12" text-anchor="middle" fill="#111">d</text>
<polyline points="315.90,432.57 347.00,430.09 533.60,415.80 564.70,410.08" stroke="#6466f0" stroke-width="0.95" fill="none"/>
<path d="M314.60,431.27L317.20,433.87M314.60,433.87L317.20,431.27" stroke="#6466f0" stroke-width="0.9" fill="none"/>
<path d="M345.70,428.79L348.30,431.39M345.70,431.39L348.30,428.79" stroke="#6466f0" stroke-width="0.9" fill="none"/>
<path d="M532.30,414.50L534.90,417.10M532.30,417.10L534.90,414.50" stroke="#6466f0" stroke-width="0.9" fill="none"/>
<path d="M563.40,408.78L566.00,411.38M563.40,411.38L566.00,408.78" stroke="#6466f0" stroke-width="0.9" fill="none"/>
<polyline points="315.90,421.14 347.00,420.37 533.60,410.46 564.70,405.89" stroke="#52ae52" stroke-width="0.95" fill="none"/>
<ellipse cx="315.90" cy="421.14" rx="1.90" ry="1.70" stroke="#52ae52" stroke-width="0.9" fill="none"/>
<ellipse cx="347.00" cy="420.37" rx="1.90" ry="1.70" stroke="#52ae52" stroke-width="0.9" fill="none"/>
<ellipse cx="533.60" cy="410.46" rx="1.90" ry="1.70" stroke="#52ae52" stroke-width="0.9" fill="none"/>
<ellipse cx="564.70" cy="405.89" rx="1.90" ry="1.70" stroke="#52ae52" stroke-width="0.9" fill="none"/>
<polyline points="315.90,432.57 347.00,430.28 533.60,415.04 564.70,409.70" stroke="#f26060" stroke-width="0.95" fill="none"/>
<path d="M314.20,432.57L317.60,432.57M315.90,430.87L315.90,434.27M314.71,431.38L317.09,433.76M314.71,433.76L317.09,431.38" stroke="#f26060" stroke-width="0.9" fill="none"/>
<path d="M345.30,430.28L348.70,430.28M347.00,428.58L347.00,431.98M345.81,429.09L348.19,431.47M345.81,431.47L348.19,429.09" stroke="#f26060" stroke-width="0.9" fill="none"/>
<path d="M531.90,415.04L535.30,415.04M533.60,413.34L533.60,416.74M532.41,413.85L534.79,416.23M532.41,416.23L534.79,413.85" stroke="#f26060" stroke-width="0.9" fill="none"/>
<path d="M563.00,409.70L566.40,409.70M564.70,408.00L564.70,411.40M563.51,408.51L565.89,410.89M563.51,410.89L565.89,408.51" stroke="#f26060" stroke-width="0.9" fill="none"/>
<polyline points="315.90,425.10 347.00,425.71 533.60,413.51 564.70,409.32" stroke="#60d4d4" stroke-width="0.95" fill="none"/>
<path d="M315.90,423.50L317.80,425.10L315.90,426.70L314.00,425.10Z" stroke="#60d4d4" stroke-width="0.9" fill="#60d4d4" fill-opacity="0.4"/>
<path d="M347.00,424.11L348.90,425.71L347.00,427.31L345.10,425.71Z" stroke="#60d4d4" stroke-width="0.9" fill="#60d4d4" fill-opacity="0.4"/>
<path d="M533.60,411.91L535.50,413.51L533.60,415.11L531.70,413.51Z" stroke="#60d4d4" stroke-width="0.9" fill="#60d4d4" fill-opacity="0.4"/>
<path d="M564.70,407.72L566.60,409.32L564.70,410.92L562.80,409.32Z" stroke="#60d4d4" stroke-width="0.9" fill="#60d4d4" fill-opacity="0.4"/>
<polyline points="315.90,426.85 347.00,426.85 533.60,414.27 564.70,409.70" stroke="#e068e0" stroke-width="0.95" fill="none"/>
<ellipse cx="315.90" cy="426.85" rx="1.90" ry="1.70" stroke="#e068e0" stroke-width="0.9" fill="none"/>
<ellipse cx="347.00" cy="426.85" rx="1.90" ry="1.70" stroke="#e068e0" stroke-width="0.9" fill="none"/>
<ellipse cx="533.60" cy="414.27" rx="1.90" ry="1.70" stroke="#e068e0" stroke-width="0.9" fill="none"/>
<ellipse cx="564.70" cy="409.70" rx="1.90" ry="1.70" stroke="#e068e0" stroke-width="0.9" fill="none"/>
<polyline points="315.90,432.57 347.00,429.90 533.60,402.46 564.70,382.64" stroke="#d8d860" stroke-width="0.95" fill="none"/>
<rect x="313.50" y="430.87" width="4.80" height="3.40" stroke="#d8d860" stroke-width="0.9" fill="none"/>
<rect x="344.60" y="428.20" width="4.80" height="3.40" stroke="#d8d860" stroke-width="0.9" fill="none"/>
<rect x="531.20" y="400.76" width="4.80" height="3.40" stroke="#d8d860" stroke-width="0.9" fill="none"/>
<rect x="562.30" y="380.94" width="4.80" height="3.40" stroke="#d8d860" stroke-width="0.9" fill="none"/>
<polyline points="315.90,432.38 347.00,429.90 533.60,414.66 564.70,409.32" stroke="#585858" stroke-width="0.95" fill="none"/>
<path d="M315.90,430.48L318.10,433.88L313.70,433.88Z" stroke="#585858" stroke-width="0.9" fill="none"/>
<path d="M347.00,428.00L349.20,431.40L344.80,431.40Z" stroke="#585858" stroke-width="0.9" fill="none"/>
<path d="M533.60,412.76L535.80,416.16L531.40,416.16Z" stroke="#585858" stroke-width="0.9" fill="none"/>
<path d="M564.70,407.42L566.90,410.82L562.50,410.82Z" stroke="#585858" stroke-width="0.9" fill="none"/>
<polyline points="315.90,432.46 347.00,428.38 533.60,361.30 564.70,312.51" stroke="#686ef2" stroke-width="0.95" fill="none"/>
<path d="M313.90,430.36L318.50,432.46L313.90,434.56Z" stroke="#686ef2" stroke-width="0.9" fill="none"/>
<path d="M345.00,426.28L349.60,428.38L345.00,430.48Z" stroke="#686ef2" stroke-width="0.9" fill="none"/>
<path d="M531.60,359.20L536.20,361.30L531.60,363.40Z" stroke="#686ef2" stroke-width="0.9" fill="none"/>
<path d="M562.70,310.41L567.30,312.51L562.70,314.61Z" stroke="#686ef2" stroke-width="0.9" fill="none"/>
<polyline points="315.90,421.52 347.00,420.75 533.60,411.23 564.70,406.65" stroke="#369636" stroke-width="0.95" fill="none"/>
<polygon points="315.90,419.52 316.48,420.79 317.99,420.90 316.84,421.79 317.19,423.13 315.90,422.42 314.61,423.13 314.96,421.79 313.81,420.90 315.32,420.79" stroke="#369636" stroke-width="0.8" fill="#369636" fill-opacity="0.5"/>
<polygon points="347.00,418.75 347.58,420.03 349.09,420.14 347.94,421.03 348.29,422.37 347.00,421.65 345.71,422.37 346.06,421.03 344.91,420.14 346.42,420.03" stroke="#369636" stroke-width="0.8" fill="#369636" fill-opacity="0.5"/>
<polygon points="533.60,409.23 534.18,410.50 535.69,410.61 534.54,411.50 534.89,412.84 533.60,412.13 532.31,412.84 532.66,411.50 531.51,410.61 533.02,410.50" stroke="#369636" stroke-width="0.8" fill="#369636" fill-opacity="0.5"/>
<polygon points="564.70,404.65 565.28,405.92 566.79,406.03 565.64,406.93 565.99,408.27 564.70,407.55 563.41,408.27 563.76,406.93 562.61,406.03 564.12,405.92" stroke="#369636" stroke-width="0.8" fill="#369636" fill-opacity="0.5"/>
<rect x="315.90" y="302.60" width="248.80" height="133.40" stroke="#585858" stroke-width="1.2" fill="none"/>
<path d="M315.90,436.00v-2.2M315.90,302.60v2.2M347.00,436.00v-2.2M347.00,302.60v2.2M378.10,436.00v-2.2M378.10,302.60v2.2M409.20,436.00v-2.2M409.20,302.60v2.2M440.30,436.00v-2.2M440.30,302.60v2.2M471.40,436.00v-2.2M471.40,302.60v2.2M502.50,436.00v-2.2M502.50,302.60v2.2M533.60,436.00v-2.2M533.60,302.60v2.2M564.70,436.00v-2.2M564.70,302.60v2.2M315.90,436.00h2.2M564.70,436.00h-2.2M315.90,416.94h2.2M564.70,416.94h-2.2M315.90,397.89h2.2M564.70,397.89h-2.2M315.90,378.83h2.2M564.70,378.83h-2.2M315.90,359.77h2.2M564.70,359.77h-2.2M315.90,340.71h2.2M564.70,340.71h-2.2M315.90,321.66h2.2M564.70,321.66h-2.2M315.90,302.60h2.2M564.70,302.60h-2.2" stroke="#585858" stroke-width="0.8" fill="none"/>
<text transform="translate(315.90,443.40) scale(1.17,1)" font-family="Liberation Sans" font-size="5.8" font-weight="normal" text-anchor="middle" fill="#2a2a3a" stroke="#2a2a3a" stroke-width="0.22">10</text>
<text transform="translate(347.00,443.40) scale(1.17,1)" font-family="Liberation Sans" font-size="5.8" font-weight="normal" text-anchor="middle" fill="#2a2a3a" stroke="#2a2a3a" stroke-width="0.22">20</text>
<text transform="translate(378.10,443.40) scale(1.17,1)" font-family="Liberation Sans" font-size="5.8" font-weight="normal" text-anchor="middle" fill="#2a2a3a" stroke="#2a2a3a" stroke-width="0.22">30</text>
<text transform="translate(409.20,443.40) scale(1.17,1)" font-family="Liberation Sans" font-size="5.8" font-weight="normal" text-anchor="middle" fill="#2a2a3a" stroke="#2a2a3a" stroke-width="0.22">40</text>
<text transform="translate(440.30,443.40) scale(1.17,1)" font-family="Liberation Sans" font-size="5.8" font-weight="normal" text-anchor="middle" fill="#2a2a3a" stroke="#2a2a3a" stroke-width="0.22">50</text>
<text transform="translate(471.40,443.40) scale(1.17,1)" font-family="Liberation Sans" font-size="5.8" font-weight="normal" text-anchor="middle" fill="#2a2a3a" stroke="#2a2a3a" stroke-width="0.22">60</text>
<text transform="translate(502.50,443.40) scale(1.17,1)" font-family="Liberation Sans" font-size="5.8" font-weight="normal" text-anchor="middle" fill="#2a2a3a" stroke="#2a2a3a" stroke-width="0.22">70</text>
<text transform="translate(533.60,443.40) scale(1.17,1)" font-family="Liberation Sans" font-size="5.8" font-weight="normal" text-anchor="middle" fill="#2a2a3a" stroke="#2a2a3a" stroke-width="0.22">80</text>
<text transform="translate(564.70,443.40) scale(1.17,1)" font-family="Liberation Sans" font-size="5.8" font-weight="normal" text-anchor="middle" fill="#2a2a3a" stroke="#2a2a3a" stroke-width="0.22">90</text>
<text transform="translate(313.30,438.30) scale(1.17,1)" font-family="Liberation Sans" font-size="5.8" font-weight="normal" text-anchor="end" fill="#2a2a3a" stroke="#2a2a3a" stroke-width="0.22">0</text>
<text transform="translate(313.30,419.24) scale(1.17,1)" font-family="Liberation Sans" font-size="5.8" font-weight="normal" text-anchor="end" fill="#2a2a3a" stroke="#2a2a3a" stroke-width="0.22">5</text>
<text transform="translate(313.30,400.19) scale(1.17,1)" font-family="Liberation Sans" font-size="5.8" font-weight="normal" text-anchor="end" fill="#2a2a3a" stroke="#2a2a3a" stroke-width="0.22">10</text>
<text transform="translate(313.30,381.13) scale(1.17,1)" font-family="Liberation Sans" font-size="5.8" font-weight="normal" text-anchor="end" fill="#2a2a3a" stroke="#2a2a3a" stroke-width="0.22">15</text>
<text transform="translate(313.30,362.07) scale(1.17,1)" font-family="Liberation Sans" font-size="5.8" font-weight="normal" text-anchor="end" fill="#2a2a3a" stroke="#2a2a3a" stroke-width="0.22">20</text>
<text transform="translate(313.30,343.01) scale(1.17,1)" font-family="Liberation Sans" font-size="5.8" font-weight="normal" text-anchor="end" fill="#2a2a3a" stroke="#2a2a3a" stroke-width="0.22">25</text>
<text transform="translate(313.30,323.96) scale(1.17,1)" font-family="Liberation Sans" font-size="5.8" font-weight="normal" text-anchor="end" fill="#2a2a3a" stroke="#2a2a3a" stroke-width="0.22">30</text>
<text transform="translate(313.30,304.90) scale(1.17,1)" font-family="Liberation Sans" font-size="5.8" font-weight="normal" text-anchor="end" fill="#2a2a3a" stroke="#2a2a3a" stroke-width="0.22">35</text>
<text transform="translate(439.50,449.80) scale(1.206,1)" font-family="Liberation Sans" font-size="6.3" font-weight="normal" text-anchor="middle" fill="#2a2a3a" stroke="#2a2a3a" stroke-width="0.12">impulse noise (%)</text>
<text transform="translate(298.86,370.10) rotate(-90) scale(0.746,1)" font-family="Liberation Sans" font-size="7.3" text-anchor="middle" fill="#2a2a3a" stroke="#2a2a3a" stroke-width="0.3">MAE</text>
<text x="440.50" y="460.00" font-family="Liberation Serif" font-weight="bold" font-size="12" text-anchor="middle" fill="#111">e</text>
<polyline points="26.90,565.23 56.08,557.84 231.12,502.42 260.30,492.56" stroke="#6466f0" stroke-width="0.95" fill="none"/>
<path d="M25.60,563.93L28.20,566.53M25.60,566.53L28.20,563.93" stroke="#6466f0" stroke-width="0.9" fill="none"/>
<path d="M54.78,556.54L57.38,559.14M54.78,559.14L57.38,556.54" stroke="#6466f0" stroke-width="0.9" fill="none"/>
<path d="M229.82,501.12L232.43,503.72M229.82,503.72L232.43,501.12" stroke="#6466f0" stroke-width="0.9" fill="none"/>
<path d="M259.00,491.26L261.60,493.87M259.00,493.87L261.60,491.26" stroke="#6466f0" stroke-width="0.9" fill="none"/>
<polyline points="26.90,593.07 56.08,592.33 231.12,592.21 260.30,590.98" stroke="#52ae52" stroke-width="0.95" fill="none"/>
<ellipse cx="26.90" cy="593.07" rx="1.90" ry="1.70" stroke="#52ae52" stroke-width="0.9" fill="none"/>
<ellipse cx="56.08" cy="592.33" rx="1.90" ry="1.70" stroke="#52ae52" stroke-width="0.9" fill="none"/>
<ellipse cx="231.12" cy="592.21" rx="1.90" ry="1.70" stroke="#52ae52" stroke-width="0.9" fill="none"/>
<ellipse cx="260.30" cy="590.98" rx="1.90" ry="1.70" stroke="#52ae52" stroke-width="0.9" fill="none"/>
<polyline points="26.90,572.87 56.08,574.22 231.12,575.09 260.30,573.86" stroke="#f26060" stroke-width="0.95" fill="none"/>
<path d="M25.20,572.87L28.60,572.87M26.90,571.17L26.90,574.57M25.71,571.68L28.09,574.06M25.71,574.06L28.09,571.68" stroke="#f26060" stroke-width="0.9" fill="none"/>
<path d="M54.38,574.22L57.78,574.22M56.08,572.52L56.08,575.92M54.89,573.03L57.27,575.41M54.89,575.41L57.27,573.03" stroke="#f26060" stroke-width="0.9" fill="none"/>
<path d="M229.43,575.09L232.82,575.09M231.12,573.39L231.12,576.79M229.94,573.90L232.31,576.28M229.94,576.28L232.31,573.90" stroke="#f26060" stroke-width="0.9" fill="none"/>
<path d="M258.60,573.86L262.00,573.86M260.30,572.15L260.30,575.56M259.11,572.66L261.49,575.05M259.11,575.05L261.49,572.66" stroke="#f26060" stroke-width="0.9" fill="none"/>
<polyline points="26.90,476.55 56.08,475.32 231.12,472.24 260.30,474.09" stroke="#60d4d4" stroke-width="0.95" fill="none"/>
<path d="M26.90,474.95L28.80,476.55L26.90,478.15L25.00,476.55Z" stroke="#60d4d4" stroke-width="0.9" fill="#60d4d4" fill-opacity="0.4"/>
<path d="M56.08,473.72L57.98,475.32L56.08,476.92L54.18,475.32Z" stroke="#60d4d4" stroke-width="0.9" fill="#60d4d4" fill-opacity="0.4"/>
<path d="M231.12,470.64L233.03,472.24L231.12,473.84L229.22,472.24Z" stroke="#60d4d4" stroke-width="0.9" fill="#60d4d4" fill-opacity="0.4"/>
<path d="M260.30,472.49L262.20,474.09L260.30,475.69L258.40,474.09Z" stroke="#60d4d4" stroke-width="0.9" fill="#60d4d4" fill-opacity="0.4"/>
<polyline points="26.90,491.33 56.08,492.56 231.12,492.56 260.30,492.56" stroke="#e068e0" stroke-width="0.95" fill="none"/>
<ellipse cx="26.90" cy="491.33" rx="1.90" ry="1.70" stroke="#e068e0" stroke-width="0.9" fill="none"/>
<ellipse cx="56.08" cy="492.56" rx="1.90" ry="1.70" stroke="#e068e0" stroke-width="0.9" fill="none"/>
<ellipse cx="231.12" cy="492.56" rx="1.90" ry="1.70" stroke="#e068e0" stroke-width="0.9" fill="none"/>
<ellipse cx="260.30" cy="492.56" rx="1.90" ry="1.70" stroke="#e068e0" stroke-width="0.9" fill="none"/>
<polyline points="26.90,593.07 56.08,599.72 231.12,593.32 260.30,593.32" stroke="#d8d860" stroke-width="0.95" fill="none"/>
<rect x="24.50" y="591.37" width="4.80" height="3.40" stroke="#d8d860" stroke-width="0.9" fill="none"/>
<rect x="53.68" y="598.02" width="4.80" height="3.40" stroke="#d8d860" stroke-width="0.9" fill="none"/>
<rect x="228.72" y="591.62" width="4.80" height="3.40" stroke="#d8d860" stroke-width="0.9" fill="none"/>
<rect x="257.90" y="591.62" width="4.80" height="3.40" stroke="#d8d860" stroke-width="0.9" fill="none"/>
<polyline points="26.90,587.16 56.08,585.68 231.12,582.48 260.30,582.60" stroke="#585858" stroke-width="0.95" fill="none"/>
<path d="M26.90,585.26L29.10,588.66L24.70,588.66Z" stroke="#585858" stroke-width="0.9" fill="none"/>
<path d="M56.08,583.78L58.28,587.18L53.88,587.18Z" stroke="#585858" stroke-width="0.9" fill="none"/>
<path d="M231.12,580.58L233.32,583.98L228.93,583.98Z" stroke="#585858" stroke-width="0.9" fill="none"/>
<path d="M260.30,580.70L262.50,584.10L258.10,584.10Z" stroke="#585858" stroke-width="0.9" fill="none"/>
<polyline points="26.90,570.16 56.08,570.16 231.12,570.78 260.30,570.78" stroke="#686ef2" stroke-width="0.95" fill="none"/>
<path d="M24.90,568.06L29.50,570.16L24.90,572.26Z" stroke="#686ef2" stroke-width="0.9" fill="none"/>
<path d="M54.08,568.06L58.68,570.16L54.08,572.26Z" stroke="#686ef2" stroke-width="0.9" fill="none"/>
<path d="M229.12,568.68L233.72,570.78L229.12,572.88Z" stroke="#686ef2" stroke-width="0.9" fill="none"/>
<path d="M258.30,568.68L262.90,570.78L258.30,572.88Z" stroke="#686ef2" stroke-width="0.9" fill="none"/>
<polyline points="26.90,605.14 56.08,603.66 231.12,592.21 260.30,591.34" stroke="#369636" stroke-width="0.95" fill="none"/>
<polygon points="26.90,603.14 27.48,604.41 28.99,604.52 27.84,605.42 28.19,606.76 26.90,606.04 25.61,606.76 25.96,605.42 24.81,604.52 26.32,604.41" stroke="#369636" stroke-width="0.8" fill="#369636" fill-opacity="0.5"/>
<polygon points="56.08,601.66 56.66,602.93 58.17,603.04 57.02,603.94 57.37,605.28 56.08,604.56 54.78,605.28 55.13,603.94 53.98,603.04 55.49,602.93" stroke="#369636" stroke-width="0.8" fill="#369636" fill-opacity="0.5"/>
<polygon points="231.12,590.21 231.71,591.48 233.22,591.59 232.07,592.48 232.42,593.82 231.12,593.11 229.83,593.82 230.18,592.48 229.03,591.59 230.54,591.48" stroke="#369636" stroke-width="0.8" fill="#369636" fill-opacity="0.5"/>
<polygon points="260.30,589.34 260.88,590.62 262.39,590.73 261.24,591.62 261.59,592.96 260.30,592.24 259.01,592.96 259.36,591.62 258.21,590.73 259.72,590.62" stroke="#369636" stroke-width="0.8" fill="#369636" fill-opacity="0.5"/>
<rect x="26.90" y="466.70" width="233.40" height="147.80" stroke="#585858" stroke-width="1.2" fill="none"/>
<path d="M26.90,614.50v-2.2M26.90,466.70v2.2M56.08,614.50v-2.2M56.08,466.70v2.2M85.25,614.50v-2.2M85.25,466.70v2.2M114.43,614.50v-2.2M114.43,466.70v2.2M143.60,614.50v-2.2M143.60,466.70v2.2M172.78,614.50v-2.2M172.78,466.70v2.2M201.95,614.50v-2.2M201.95,466.70v2.2M231.12,614.50v-2.2M231.12,466.70v2.2M260.30,614.50v-2.2M260.30,466.70v2.2M26.90,614.50h2.2M260.30,614.50h-2.2M26.90,589.87h2.2M260.30,589.87h-2.2M26.90,565.23h2.2M260.30,565.23h-2.2M26.90,540.60h2.2M260.30,540.60h-2.2M26.90,515.97h2.2M260.30,515.97h-2.2M26.90,491.33h2.2M260.30,491.33h-2.2M26.90,466.70h2.2M260.30,466.70h-2.2" stroke="#585858" stroke-width="0.8" fill="none"/>
<text transform="translate(26.90,621.90) scale(1.17,1)" font-family="Liberation Sans" font-size="5.8" font-weight="normal" text-anchor="middle" fill="#2a2a3a" stroke="#2a2a3a" stroke-width="0.22">10</text>
<text transform="translate(56.08,621.90) scale(1.17,1)" font-family="Liberation Sans" font-size="5.8" font-weight="normal" text-anchor="middle" fill="#2a2a3a" stroke="#2a2a3a" stroke-width="0.22">20</text>
<text transform="translate(85.25,621.90) scale(1.17,1)" font-family="Liberation Sans" font-size="5.8" font-weight="normal" text-anchor="middle" fill="#2a2a3a" stroke="#2a2a3a" stroke-width="0.22">30</text>
<text transform="translate(114.43,621.90) scale(1.17,1)" font-family="Liberation Sans" font-size="5.8" font-weight="normal" text-anchor="middle" fill="#2a2a3a" stroke="#2a2a3a" stroke-width="0.22">40</text>
<text transform="translate(143.60,621.90) scale(1.17,1)" font-family="Liberation Sans" font-size="5.8" font-weight="normal" text-anchor="middle" fill="#2a2a3a" stroke="#2a2a3a" stroke-width="0.22">50</text>
<text transform="translate(172.78,621.90) scale(1.17,1)" font-family="Liberation Sans" font-size="5.8" font-weight="normal" text-anchor="middle" fill="#2a2a3a" stroke="#2a2a3a" stroke-width="0.22">60</text>
<text transform="translate(201.95,621.90) scale(1.17,1)" font-family="Liberation Sans" font-size="5.8" font-weight="normal" text-anchor="middle" fill="#2a2a3a" stroke="#2a2a3a" stroke-width="0.22">70</text>
<text transform="translate(231.12,621.90) scale(1.17,1)" font-family="Liberation Sans" font-size="5.8" font-weight="normal" text-anchor="middle" fill="#2a2a3a" stroke="#2a2a3a" stroke-width="0.22">80</text>
<text transform="translate(260.30,621.90) scale(1.17,1)" font-family="Liberation Sans" font-size="5.8" font-weight="normal" text-anchor="middle" fill="#2a2a3a" stroke="#2a2a3a" stroke-width="0.22">90</text>
<text transform="translate(24.30,616.80) scale(1.17,1)" font-family="Liberation Sans" font-size="5.8" font-weight="normal" text-anchor="end" fill="#2a2a3a" stroke="#2a2a3a" stroke-width="0.22">0</text>
<text transform="translate(24.30,592.17) scale(1.17,1)" font-family="Liberation Sans" font-size="5.8" font-weight="normal" text-anchor="end" fill="#2a2a3a" stroke="#2a2a3a" stroke-width="0.22">2</text>
<text transform="translate(24.30,567.53) scale(1.17,1)" font-family="Liberation Sans" font-size="5.8" font-weight="normal" text-anchor="end" fill="#2a2a3a" stroke="#2a2a3a" stroke-width="0.22">4</text>
<text transform="translate(24.30,542.90) scale(1.17,1)" font-family="Liberation Sans" font-size="5.8" font-weight="normal" text-anchor="end" fill="#2a2a3a" stroke="#2a2a3a" stroke-width="0.22">6</text>
<text transform="translate(24.30,518.27) scale(1.17,1)" font-family="Liberation Sans" font-size="5.8" font-weight="normal" text-anchor="end" fill="#2a2a3a" stroke="#2a2a3a" stroke-width="0.22">8</text>
<text transform="translate(24.30,493.63) scale(1.17,1)" font-family="Liberation Sans" font-size="5.8" font-weight="normal" text-anchor="end" fill="#2a2a3a" stroke="#2a2a3a" stroke-width="0.22">10</text>
<text transform="translate(24.30,469.00) scale(1.17,1)" font-family="Liberation Sans" font-size="5.8" font-weight="normal" text-anchor="end" fill="#2a2a3a" stroke="#2a2a3a" stroke-width="0.22">12</text>
<text transform="translate(142.90,629.50) scale(1.1331,1)" font-family="Liberation Sans" font-size="6.3" font-weight="normal" text-anchor="middle" fill="#2a2a3a" stroke="#2a2a3a" stroke-width="0.12">impulse noise (%)</text>
<text transform="translate(10.25,540.50) rotate(-90) scale(0.848,1)" font-family="Liberation Sans" font-size="7.0" text-anchor="middle" fill="#2a2a3a" stroke="#2a2a3a" stroke-width="0.3">Execution Time</text>
<text x="140.90" y="642.50" font-family="Liberation Serif" font-weight="bold" font-size="12" text-anchor="middle" fill="#111">f</text>
<polyline points="314.50,474.70 345.95,488.01 534.65,543.10 566.10,554.56" stroke="#6466f0" stroke-width="0.95" fill="none"/>
<path d="M313.20,473.40L315.80,476.00M313.20,476.00L315.80,473.40" stroke="#6466f0" stroke-width="0.9" fill="none"/>
<path d="M344.65,486.71L347.25,489.31M344.65,489.31L347.25,486.71" stroke="#6466f0" stroke-width="0.9" fill="none"/>
<path d="M533.35,541.80L535.95,544.40M533.35,544.40L535.95,541.80" stroke="#6466f0" stroke-width="0.9" fill="none"/>
<path d="M564.80,553.26L567.40,555.86M564.80,555.86L567.40,553.26" stroke="#6466f0" stroke-width="0.9" fill="none"/>
<polyline points="314.50,512.78 345.95,516.85 534.65,553.08 566.10,562.70" stroke="#52ae52" stroke-width="0.95" fill="none"/>
<ellipse cx="314.50" cy="512.78" rx="1.90" ry="1.70" stroke="#52ae52" stroke-width="0.9" fill="none"/>
<ellipse cx="345.95" cy="516.85" rx="1.90" ry="1.70" stroke="#52ae52" stroke-width="0.9" fill="none"/>
<ellipse cx="534.65" cy="553.08" rx="1.90" ry="1.70" stroke="#52ae52" stroke-width="0.9" fill="none"/>
<ellipse cx="566.10" cy="562.70" rx="1.90" ry="1.70" stroke="#52ae52" stroke-width="0.9" fill="none"/>
<polyline points="314.50,480.61 345.95,492.44 534.65,546.43 566.10,556.41" stroke="#f26060" stroke-width="0.95" fill="none"/>
<path d="M312.80,480.61L316.20,480.61M314.50,478.91L314.50,482.31M313.31,479.42L315.69,481.80M313.31,481.80L315.69,479.42" stroke="#f26060" stroke-width="0.9" fill="none"/>
<path d="M344.25,492.44L347.65,492.44M345.95,490.74L345.95,494.14M344.76,491.25L347.14,493.63M344.76,493.63L347.14,491.25" stroke="#f26060" stroke-width="0.9" fill="none"/>
<path d="M532.95,546.43L536.35,546.43M534.65,544.73L534.65,548.13M533.46,545.24L535.84,547.62M533.46,547.62L535.84,545.24" stroke="#f26060" stroke-width="0.9" fill="none"/>
<path d="M564.40,556.41L567.80,556.41M566.10,554.71L566.10,558.11M564.91,555.22L567.29,557.60M564.91,557.60L567.29,555.22" stroke="#f26060" stroke-width="0.9" fill="none"/>
<polyline points="314.50,502.80 345.95,505.75 534.65,543.47 566.10,554.56" stroke="#60d4d4" stroke-width="0.95" fill="none"/>
<path d="M314.50,501.20L316.40,502.80L314.50,504.40L312.60,502.80Z" stroke="#60d4d4" stroke-width="0.9" fill="#60d4d4" fill-opacity="0.4"/>
<path d="M345.95,504.15L347.85,505.75L345.95,507.35L344.05,505.75Z" stroke="#60d4d4" stroke-width="0.9" fill="#60d4d4" fill-opacity="0.4"/>
<path d="M534.65,541.87L536.55,543.47L534.65,545.07L532.75,543.47Z" stroke="#60d4d4" stroke-width="0.9" fill="#60d4d4" fill-opacity="0.4"/>
<path d="M566.10,552.96L568.00,554.56L566.10,556.16L564.20,554.56Z" stroke="#60d4d4" stroke-width="0.9" fill="#60d4d4" fill-opacity="0.4"/>
<polyline points="314.50,502.06 345.95,503.54 534.65,546.43 566.10,556.41" stroke="#e068e0" stroke-width="0.95" fill="none"/>
<ellipse cx="314.50" cy="502.06" rx="1.90" ry="1.70" stroke="#e068e0" stroke-width="0.9" fill="none"/>
<ellipse cx="345.95" cy="503.54" rx="1.90" ry="1.70" stroke="#e068e0" stroke-width="0.9" fill="none"/>
<ellipse cx="534.65" cy="546.43" rx="1.90" ry="1.70" stroke="#e068e0" stroke-width="0.9" fill="none"/>
<ellipse cx="566.10" cy="556.41" rx="1.90" ry="1.70" stroke="#e068e0" stroke-width="0.9" fill="none"/>
<polyline points="314.50,483.57 345.95,494.66 534.65,547.91 566.10,558.26" stroke="#d8d860" stroke-width="0.95" fill="none"/>
<rect x="312.10" y="481.87" width="4.80" height="3.40" stroke="#d8d860" stroke-width="0.9" fill="none"/>
<rect x="343.55" y="492.96" width="4.80" height="3.40" stroke="#d8d860" stroke-width="0.9" fill="none"/>
<rect x="532.25" y="546.21" width="4.80" height="3.40" stroke="#d8d860" stroke-width="0.9" fill="none"/>
<rect x="563.70" y="556.56" width="4.80" height="3.40" stroke="#d8d860" stroke-width="0.9" fill="none"/>
<polyline points="314.50,486.53 345.95,496.14 534.65,549.38 566.10,560.85" stroke="#585858" stroke-width="0.95" fill="none"/>
<path d="M314.50,484.63L316.70,488.03L312.30,488.03Z" stroke="#585858" stroke-width="0.9" fill="none"/>
<path d="M345.95,494.24L348.15,497.64L343.75,497.64Z" stroke="#585858" stroke-width="0.9" fill="none"/>
<path d="M534.65,547.48L536.85,550.88L532.45,550.88Z" stroke="#585858" stroke-width="0.9" fill="none"/>
<path d="M566.10,558.95L568.30,562.35L563.90,562.35Z" stroke="#585858" stroke-width="0.9" fill="none"/>
<polyline points="314.50,489.49 345.95,507.97 534.65,587.47 566.10,609.28" stroke="#686ef2" stroke-width="0.95" fill="none"/>
<path d="M312.50,487.38L317.10,489.49L312.50,491.59Z" stroke="#686ef2" stroke-width="0.9" fill="none"/>
<path d="M343.95,505.87L348.55,507.97L343.95,510.07Z" stroke="#686ef2" stroke-width="0.9" fill="none"/>
<path d="M532.65,585.37L537.25,587.47L532.65,589.57Z" stroke="#686ef2" stroke-width="0.9" fill="none"/>
<path d="M564.10,607.18L568.70,609.28L564.10,611.38Z" stroke="#686ef2" stroke-width="0.9" fill="none"/>
<polyline points="314.50,517.59 345.95,519.07 534.65,553.08 566.10,563.44" stroke="#369636" stroke-width="0.95" fill="none"/>
<polygon points="314.50,515.59 315.08,516.86 316.59,516.97 315.44,517.86 315.79,519.20 314.50,518.49 313.21,519.20 313.56,517.86 312.41,516.97 313.92,516.86" stroke="#369636" stroke-width="0.8" fill="#369636" fill-opacity="0.5"/>
<polygon points="345.95,517.07 346.53,518.34 348.04,518.45 346.89,519.34 347.24,520.68 345.95,519.97 344.66,520.68 345.01,519.34 343.86,518.45 345.37,518.34" stroke="#369636" stroke-width="0.8" fill="#369636" fill-opacity="0.5"/>
<polygon points="534.65,551.08 535.23,552.35 536.74,552.46 535.59,553.36 535.94,554.70 534.65,553.98 533.36,554.70 533.71,553.36 532.56,552.46 534.07,552.35" stroke="#369636" stroke-width="0.8" fill="#369636" fill-opacity="0.5"/>
<polygon points="566.10,561.44 566.68,562.71 568.19,562.82 567.04,563.71 567.39,565.05 566.10,564.34 564.81,565.05 565.16,563.71 564.01,562.82 565.52,562.71" stroke="#369636" stroke-width="0.8" fill="#369636" fill-opacity="0.5"/>
<rect x="314.50" y="467.30" width="251.60" height="147.90" stroke="#585858" stroke-width="1.2" fill="none"/>
<path d="M314.50,615.20v-2.2M314.50,467.30v2.2M345.95,615.20v-2.2M345.95,467.30v2.2M377.40,615.20v-2.2M377.40,467.30v2.2M408.85,615.20v-2.2M408.85,467.30v2.2M440.30,615.20v-2.2M440.30,467.30v2.2M471.75,615.20v-2.2M471.75,467.30v2.2M503.20,615.20v-2.2M503.20,467.30v2.2M534.65,615.20v-2.2M534.65,467.30v2.2M566.10,615.20v-2.2M566.10,467.30v2.2M314.50,615.20h2.2M566.10,615.20h-2.2M314.50,600.41h2.2M566.10,600.41h-2.2M314.50,585.62h2.2M566.10,585.62h-2.2M314.50,570.83h2.2M566.10,570.83h-2.2M314.50,556.04h2.2M566.10,556.04h-2.2M314.50,541.25h2.2M566.10,541.25h-2.2M314.50,526.46h2.2M566.10,526.46h-2.2M314.50,511.67h2.2M566.10,511.67h-2.2M314.50,496.88h2.2M566.10,496.88h-2.2M314.50,482.09h2.2M566.10,482.09h-2.2M314.50,467.30h2.2M566.10,467.30h-2.2" stroke="#585858" stroke-width="0.8" fill="none"/>
<text transform="translate(314.50,622.60) scale(1.17,1)" font-family="Liberation Sans" font-size="5.8" font-weight="normal" text-anchor="middle" fill="#2a2a3a" stroke="#2a2a3a" stroke-width="0.22">10</text>
<text transform="translate(345.95,622.60) scale(1.17,1)" font-family="Liberation Sans" font-size="5.8" font-weight="normal" text-anchor="middle" fill="#2a2a3a" stroke="#2a2a3a" stroke-width="0.22">20</text>
<text transform="translate(377.40,622.60) scale(1.17,1)" font-family="Liberation Sans" font-size="5.8" font-weight="normal" text-anchor="middle" fill="#2a2a3a" stroke="#2a2a3a" stroke-width="0.22">30</text>
<text transform="translate(408.85,622.60) scale(1.17,1)" font-family="Liberation Sans" font-size="5.8" font-weight="normal" text-anchor="middle" fill="#2a2a3a" stroke="#2a2a3a" stroke-width="0.22">40</text>
<text transform="translate(440.30,622.60) scale(1.17,1)" font-family="Liberation Sans" font-size="5.8" font-weight="normal" text-anchor="middle" fill="#2a2a3a" stroke="#2a2a3a" stroke-width="0.22">50</text>
<text transform="translate(471.75,622.60) scale(1.17,1)" font-family="Liberation Sans" font-size="5.8" font-weight="normal" text-anchor="middle" fill="#2a2a3a" stroke="#2a2a3a" stroke-width="0.22">60</text>
<text transform="translate(503.20,622.60) scale(1.17,1)" font-family="Liberation Sans" font-size="5.8" font-weight="normal" text-anchor="middle" fill="#2a2a3a" stroke="#2a2a3a" stroke-width="0.22">70</text>
<text transform="translate(534.65,622.60) scale(1.17,1)" font-family="Liberation Sans" font-size="5.8" font-weight="normal" text-anchor="middle" fill="#2a2a3a" stroke="#2a2a3a" stroke-width="0.22">80</text>
<text transform="translate(566.10,622.60) scale(1.17,1)" font-family="Liberation Sans" font-size="5.8" font-weight="normal" text-anchor="middle" fill="#2a2a3a" stroke="#2a2a3a" stroke-width="0.22">90</text>
<text transform="translate(311.90,617.50) scale(1.17,1)" font-family="Liberation Sans" font-size="5.8" font-weight="normal" text-anchor="end" fill="#2a2a3a" stroke="#2a2a3a" stroke-width="0.22">18</text>
<text transform="translate(311.90,602.71) scale(1.17,1)" font-family="Liberation Sans" font-size="5.8" font-weight="normal" text-anchor="end" fill="#2a2a3a" stroke="#2a2a3a" stroke-width="0.22">20</text>
<text transform="translate(311.90,587.92) scale(1.17,1)" font-family="Liberation Sans" font-size="5.8" font-weight="normal" text-anchor="end" fill="#2a2a3a" stroke="#2a2a3a" stroke-width="0.22">22</text>
<text transform="translate(311.90,573.13) scale(1.17,1)" font-family="Liberation Sans" font-size="5.8" font-weight="normal" text-anchor="end" fill="#2a2a3a" stroke="#2a2a3a" stroke-width="0.22">24</text>
<text transform="translate(311.90,558.34) scale(1.17,1)" font-family="Liberation Sans" font-size="5.8" font-weight="normal" text-anchor="end" fill="#2a2a3a" stroke="#2a2a3a" stroke-width="0.22">26</text>
<text transform="translate(311.90,543.55) scale(1.17,1)" font-family="Liberation Sans" font-size="5.8" font-weight="normal" text-anchor="end" fill="#2a2a3a" stroke="#2a2a3a" stroke-width="0.22">28</text>
<text transform="translate(311.90,528.76) scale(1.17,1)" font-family="Liberation Sans" font-size="5.8" font-weight="normal" text-anchor="end" fill="#2a2a3a" stroke="#2a2a3a" stroke-width="0.22">30</text>
<text transform="translate(311.90,513.97) scale(1.17,1)" font-family="Liberation Sans" font-size="5.8" font-weight="normal" text-anchor="end" fill="#2a2a3a" stroke="#2a2a3a" stroke-width="0.22">32</text>
<text transform="translate(311.90,499.18) scale(1.17,1)" font-family="Liberation Sans" font-size="5.8" font-weight="normal" text-anchor="end" fill="#2a2a3a" stroke="#2a2a3a" stroke-width="0.22">34</text>
<text transform="translate(311.90,484.39) scale(1.17,1)" font-family="Liberation Sans" font-size="5.8" font-weight="normal" text-anchor="end" fill="#2a2a3a" stroke="#2a2a3a" stroke-width="0.22">36</text>
<text transform="translate(311.90,469.60) scale(1.17,1)" font-family="Liberation Sans" font-size="5.8" font-weight="normal" text-anchor="end" fill="#2a2a3a" stroke="#2a2a3a" stroke-width="0.22">38</text>
<text transform="translate(439.70,630.00) scale(1.2283,1)" font-family="Liberation Sans" font-size="6.3" font-weight="normal" text-anchor="middle" fill="#2a2a3a" stroke="#2a2a3a" stroke-width="0.12">impulse noise (%)</text>
<text transform="translate(297.52,542.00) rotate(-90) scale(0.738,1)" font-family="Liberation Sans" font-size="8.0" text-anchor="middle" fill="#2a2a3a" stroke="#2a2a3a" stroke-width="0.3">PSNR</text>
<text x="440.90" y="640.60" font-family="Liberation Serif" font-weight="bold" font-size="12" text-anchor="middle" fill="#111">g</text>
<polyline points="32.60,779.40 60.91,775.64 230.79,739.92 259.10,726.49" stroke="#6466f0" stroke-width="0.95" fill="none"/>
<path d="M31.30,778.10L33.90,780.70M31.30,780.70L33.90,778.10" stroke="#6466f0" stroke-width="0.9" fill="none"/>
<path d="M59.61,774.34L62.21,776.94M59.61,776.94L62.21,774.34" stroke="#6466f0" stroke-width="0.9" fill="none"/>
<path d="M229.49,738.62L232.09,741.22M229.49,741.22L232.09,738.62" stroke="#6466f0" stroke-width="0.9" fill="none"/>
<path d="M257.80,725.19L260.40,727.79M257.80,727.79L260.40,725.19" stroke="#6466f0" stroke-width="0.9" fill="none"/>
<polyline points="32.60,724.34 60.91,724.34 230.79,697.75 259.10,694.26" stroke="#52ae52" stroke-width="0.95" fill="none"/>
<ellipse cx="32.60" cy="724.34" rx="1.90" ry="1.70" stroke="#52ae52" stroke-width="0.9" fill="none"/>
<ellipse cx="60.91" cy="724.34" rx="1.90" ry="1.70" stroke="#52ae52" stroke-width="0.9" fill="none"/>
<ellipse cx="230.79" cy="697.75" rx="1.90" ry="1.70" stroke="#52ae52" stroke-width="0.9" fill="none"/>
<ellipse cx="259.10" cy="694.26" rx="1.90" ry="1.70" stroke="#52ae52" stroke-width="0.9" fill="none"/>
<polyline points="32.60,775.64 60.91,772.69 230.79,737.77 259.10,728.10" stroke="#f26060" stroke-width="0.95" fill="none"/>
<path d="M30.90,775.64L34.30,775.64M32.60,773.94L32.60,777.34M31.41,774.45L33.79,776.83M31.41,776.83L33.79,774.45" stroke="#f26060" stroke-width="0.9" fill="none"/>
<path d="M59.21,772.69L62.61,772.69M60.91,770.99L60.91,774.39M59.72,771.50L62.10,773.88M59.72,773.88L62.10,771.50" stroke="#f26060" stroke-width="0.9" fill="none"/>
<path d="M229.09,737.77L232.49,737.77M230.79,736.07L230.79,739.47M229.60,736.58L231.98,738.96M229.60,738.96L231.98,736.58" stroke="#f26060" stroke-width="0.9" fill="none"/>
<path d="M257.40,728.10L260.80,728.10M259.10,726.40L259.10,729.80M257.91,726.91L260.29,729.29M257.91,729.29L260.29,726.91" stroke="#f26060" stroke-width="0.9" fill="none"/>
<polyline points="32.60,742.34 60.91,741.53 230.79,726.49 259.10,712.79" stroke="#60d4d4" stroke-width="0.95" fill="none"/>
<path d="M32.60,740.74L34.50,742.34L32.60,743.94L30.70,742.34Z" stroke="#60d4d4" stroke-width="0.9" fill="#60d4d4" fill-opacity="0.4"/>
<path d="M60.91,739.93L62.81,741.53L60.91,743.13L59.01,741.53Z" stroke="#60d4d4" stroke-width="0.9" fill="#60d4d4" fill-opacity="0.4"/>
<path d="M230.79,724.89L232.69,726.49L230.79,728.09L228.89,726.49Z" stroke="#60d4d4" stroke-width="0.9" fill="#60d4d4" fill-opacity="0.4"/>
<path d="M259.10,711.19L261.00,712.79L259.10,714.39L257.20,712.79Z" stroke="#60d4d4" stroke-width="0.9" fill="#60d4d4" fill-opacity="0.4"/>
<polyline points="32.60,741.26 60.91,761.94 230.79,724.34 259.10,702.31" stroke="#e068e0" stroke-width="0.95" fill="none"/>
<ellipse cx="32.60" cy="741.26" rx="1.90" ry="1.70" stroke="#e068e0" stroke-width="0.9" fill="none"/>
<ellipse cx="60.91" cy="761.94" rx="1.90" ry="1.70" stroke="#e068e0" stroke-width="0.9" fill="none"/>
<ellipse cx="230.79" cy="724.34" rx="1.90" ry="1.70" stroke="#e068e0" stroke-width="0.9" fill="none"/>
<ellipse cx="259.10" cy="702.31" rx="1.90" ry="1.70" stroke="#e068e0" stroke-width="0.9" fill="none"/>
<polyline points="32.60,760.60 60.91,761.94 230.79,742.87 259.10,735.08" stroke="#d8d860" stroke-width="0.95" fill="none"/>
<rect x="30.20" y="758.90" width="4.80" height="3.40" stroke="#d8d860" stroke-width="0.9" fill="none"/>
<rect x="58.51" y="760.24" width="4.80" height="3.40" stroke="#d8d860" stroke-width="0.9" fill="none"/>
<rect x="228.39" y="741.17" width="4.80" height="3.40" stroke="#d8d860" stroke-width="0.9" fill="none"/>
<rect x="256.70" y="733.38" width="4.80" height="3.40" stroke="#d8d860" stroke-width="0.9" fill="none"/>
<polyline points="32.60,768.93 60.91,771.08 230.79,729.98 259.10,723.00" stroke="#585858" stroke-width="0.95" fill="none"/>
<path d="M32.60,767.03L34.80,770.43L30.40,770.43Z" stroke="#585858" stroke-width="0.9" fill="none"/>
<path d="M60.91,769.18L63.11,772.58L58.71,772.58Z" stroke="#585858" stroke-width="0.9" fill="none"/>
<path d="M230.79,728.08L232.99,731.48L228.59,731.48Z" stroke="#585858" stroke-width="0.9" fill="none"/>
<path d="M259.10,721.10L261.30,724.50L256.90,724.50Z" stroke="#585858" stroke-width="0.9" fill="none"/>
<polyline points="32.60,777.25 60.91,771.08 230.79,705.81 259.10,660.95" stroke="#686ef2" stroke-width="0.95" fill="none"/>
<path d="M30.60,775.15L35.20,777.25L30.60,779.35Z" stroke="#686ef2" stroke-width="0.9" fill="none"/>
<path d="M58.91,768.98L63.51,771.08L58.91,773.18Z" stroke="#686ef2" stroke-width="0.9" fill="none"/>
<path d="M228.79,703.71L233.39,705.81L228.79,707.91Z" stroke="#686ef2" stroke-width="0.9" fill="none"/>
<path d="M257.10,658.85L261.70,660.95L257.10,663.05Z" stroke="#686ef2" stroke-width="0.9" fill="none"/>
<polyline points="32.60,721.12 60.91,726.76 230.79,702.31 259.10,704.73" stroke="#369636" stroke-width="0.95" fill="none"/>
<polygon points="32.60,719.12 33.18,720.39 34.69,720.50 33.54,721.39 33.89,722.73 32.60,722.02 31.31,722.73 31.66,721.39 30.51,720.50 32.02,720.39" stroke="#369636" stroke-width="0.8" fill="#369636" fill-opacity="0.5"/>
<polygon points="60.91,724.76 61.49,726.03 63.00,726.14 61.85,727.03 62.21,728.37 60.91,727.66 59.62,728.37 59.97,727.03 58.82,726.14 60.33,726.03" stroke="#369636" stroke-width="0.8" fill="#369636" fill-opacity="0.5"/>
<polygon points="230.79,700.31 231.37,701.59 232.88,701.70 231.73,702.59 232.08,703.93 230.79,703.21 229.49,703.93 229.85,702.59 228.70,701.70 230.21,701.59" stroke="#369636" stroke-width="0.8" fill="#369636" fill-opacity="0.5"/>
<polygon points="259.10,702.73 259.68,704.00 261.19,704.11 260.04,705.01 260.39,706.35 259.10,705.63 257.81,706.35 258.16,705.01 257.01,704.11 258.52,704.00" stroke="#369636" stroke-width="0.8" fill="#369636" fill-opacity="0.5"/>
<rect x="32.60" y="649.40" width="226.50" height="134.30" stroke="#585858" stroke-width="1.2" fill="none"/>
<path d="M32.60,783.70v-2.2M32.60,649.40v2.2M60.91,783.70v-2.2M60.91,649.40v2.2M89.23,783.70v-2.2M89.23,649.40v2.2M117.54,783.70v-2.2M117.54,649.40v2.2M145.85,783.70v-2.2M145.85,649.40v2.2M174.16,783.70v-2.2M174.16,649.40v2.2M202.48,783.70v-2.2M202.48,649.40v2.2M230.79,783.70v-2.2M230.79,649.40v2.2M259.10,783.70v-2.2M259.10,649.40v2.2M32.60,783.70h2.2M259.10,783.70h-2.2M32.60,770.27h2.2M259.10,770.27h-2.2M32.60,756.84h2.2M259.10,756.84h-2.2M32.60,743.41h2.2M259.10,743.41h-2.2M32.60,729.98h2.2M259.10,729.98h-2.2M32.60,716.55h2.2M259.10,716.55h-2.2M32.60,703.12h2.2M259.10,703.12h-2.2M32.60,689.69h2.2M259.10,689.69h-2.2M32.60,676.26h2.2M259.10,676.26h-2.2M32.60,662.83h2.2M259.10,662.83h-2.2M32.60,649.40h2.2M259.10,649.40h-2.2" stroke="#585858" stroke-width="0.8" fill="none"/>
<text transform="translate(32.60,791.10) scale(1.17,1)" font-family="Liberation Sans" font-size="5.8" font-weight="normal" text-anchor="middle" fill="#2a2a3a" stroke="#2a2a3a" stroke-width="0.22">10</text>
<text transform="translate(60.91,791.10) scale(1.17,1)" font-family="Liberation Sans" font-size="5.8" font-weight="normal" text-anchor="middle" fill="#2a2a3a" stroke="#2a2a3a" stroke-width="0.22">20</text>
<text transform="translate(89.23,791.10) scale(1.17,1)" font-family="Liberation Sans" font-size="5.8" font-weight="normal" text-anchor="middle" fill="#2a2a3a" stroke="#2a2a3a" stroke-width="0.22">30</text>
<text transform="translate(117.54,791.10) scale(1.17,1)" font-family="Liberation Sans" font-size="5.8" font-weight="normal" text-anchor="middle" fill="#2a2a3a" stroke="#2a2a3a" stroke-width="0.22">40</text>
<text transform="translate(145.85,791.10) scale(1.17,1)" font-family="Liberation Sans" font-size="5.8" font-weight="normal" text-anchor="middle" fill="#2a2a3a" stroke="#2a2a3a" stroke-width="0.22">50</text>
<text transform="translate(174.16,791.10) scale(1.17,1)" font-family="Liberation Sans" font-size="5.8" font-weight="normal" text-anchor="middle" fill="#2a2a3a" stroke="#2a2a3a" stroke-width="0.22">60</text>
<text transform="translate(202.48,791.10) scale(1.17,1)" font-family="Liberation Sans" font-size="5.8" font-weight="normal" text-anchor="middle" fill="#2a2a3a" stroke="#2a2a3a" stroke-width="0.22">70</text>
<text transform="translate(230.79,791.10) scale(1.17,1)" font-family="Liberation Sans" font-size="5.8" font-weight="normal" text-anchor="middle" fill="#2a2a3a" stroke="#2a2a3a" stroke-width="0.22">80</text>
<text transform="translate(259.10,791.10) scale(1.17,1)" font-family="Liberation Sans" font-size="5.8" font-weight="normal" text-anchor="middle" fill="#2a2a3a" stroke="#2a2a3a" stroke-width="0.22">90</text>
<text transform="translate(30.00,786.00) scale(1.17,1)" font-family="Liberation Sans" font-size="5.8" font-weight="normal" text-anchor="end" fill="#2a2a3a" stroke="#2a2a3a" stroke-width="0.22">0</text>
<text transform="translate(30.00,772.57) scale(1.17,1)" font-family="Liberation Sans" font-size="5.8" font-weight="normal" text-anchor="end" fill="#2a2a3a" stroke="#2a2a3a" stroke-width="0.22">0.005</text>
<text transform="translate(30.00,759.14) scale(1.17,1)" font-family="Liberation Sans" font-size="5.8" font-weight="normal" text-anchor="end" fill="#2a2a3a" stroke="#2a2a3a" stroke-width="0.22">0.01</text>
<text transform="translate(30.00,745.71) scale(1.17,1)" font-family="Liberation Sans" font-size="5.8" font-weight="normal" text-anchor="end" fill="#2a2a3a" stroke="#2a2a3a" stroke-width="0.22">0.015</text>
<text transform="translate(30.00,732.28) scale(1.17,1)" font-family="Liberation Sans" font-size="5.8" font-weight="normal" text-anchor="end" fill="#2a2a3a" stroke="#2a2a3a" stroke-width="0.22">0.02</text>
<text transform="translate(30.00,718.85) scale(1.17,1)" font-family="Liberation Sans" font-size="5.8" font-weight="normal" text-anchor="end" fill="#2a2a3a" stroke="#2a2a3a" stroke-width="0.22">0.025</text>
<text transform="translate(30.00,705.42) scale(1.17,1)" font-family="Liberation Sans" font-size="5.8" font-weight="normal" text-anchor="end" fill="#2a2a3a" stroke="#2a2a3a" stroke-width="0.22">0.03</text>
<text transform="translate(30.00,691.99) scale(1.17,1)" font-family="Liberation Sans" font-size="5.8" font-weight="normal" text-anchor="end" fill="#2a2a3a" stroke="#2a2a3a" stroke-width="0.22">0.035</text>
<text transform="translate(30.00,678.56) scale(1.17,1)" font-family="Liberation Sans" font-size="5.8" font-weight="normal" text-anchor="end" fill="#2a2a3a" stroke="#2a2a3a" stroke-width="0.22">0.04</text>
<text transform="translate(30.00,665.13) scale(1.17,1)" font-family="Liberation Sans" font-size="5.8" font-weight="normal" text-anchor="end" fill="#2a2a3a" stroke="#2a2a3a" stroke-width="0.22">0.045</text>
<text transform="translate(30.00,651.70) scale(1.17,1)" font-family="Liberation Sans" font-size="5.8" font-weight="normal" text-anchor="end" fill="#2a2a3a" stroke="#2a2a3a" stroke-width="0.22">0.05</text>
<text transform="translate(145.10,797.40) scale(1.098,1)" font-family="Liberation Sans" font-size="6.3" font-weight="normal" text-anchor="middle" fill="#2a2a3a" stroke="#2a2a3a" stroke-width="0.12">impulse noise (%)</text>
<text transform="translate(7.97,717.20) rotate(-90) scale(0.760,1)" font-family="Liberation Sans" font-size="6.5" text-anchor="middle" fill="#2a2a3a" stroke="#2a2a3a" stroke-width="0.3">NCD</text>
<text x="138.60" y="808.40" font-family="Liberation Serif" font-weight="bold" font-size="12" text-anchor="middle" fill="#111">h</text>
<polyline points="316.20,777.93 347.46,775.69 535.04,743.58 566.30,733.13" stroke="#6466f0" stroke-width="0.95" fill="none"/>
<path d="M314.90,776.63L317.50,779.23M314.90,779.23L317.50,776.63" stroke="#6466f0" stroke-width="0.9" fill="none"/>
<path d="M346.16,774.39L348.76,776.99M346.16,776.99L348.76,774.39" stroke="#6466f0" stroke-width="0.9" fill="none"/>
<path d="M533.74,742.28L536.34,744.88M533.74,744.88L536.34,742.28" stroke="#6466f0" stroke-width="0.9" fill="none"/>
<path d="M565.00,731.83L567.60,734.43M565.00,734.43L567.60,731.83" stroke="#6466f0" stroke-width="0.9" fill="none"/>
<polyline points="316.20,753.66 347.46,752.54 535.04,731.41 566.30,722.08" stroke="#52ae52" stroke-width="0.95" fill="none"/>
<ellipse cx="316.20" cy="753.66" rx="1.90" ry="1.70" stroke="#52ae52" stroke-width="0.9" fill="none"/>
<ellipse cx="347.46" cy="752.54" rx="1.90" ry="1.70" stroke="#52ae52" stroke-width="0.9" fill="none"/>
<ellipse cx="535.04" cy="731.41" rx="1.90" ry="1.70" stroke="#52ae52" stroke-width="0.9" fill="none"/>
<ellipse cx="566.30" cy="722.08" rx="1.90" ry="1.70" stroke="#52ae52" stroke-width="0.9" fill="none"/>
<polyline points="316.20,777.18 347.46,775.31 535.04,744.33 566.30,732.38" stroke="#f26060" stroke-width="0.95" fill="none"/>
<path d="M314.50,777.18L317.90,777.18M316.20,775.48L316.20,778.88M315.01,775.99L317.39,778.37M315.01,778.37L317.39,775.99" stroke="#f26060" stroke-width="0.9" fill="none"/>
<path d="M345.76,775.31L349.16,775.31M347.46,773.61L347.46,777.01M346.27,774.12L348.65,776.50M346.27,776.50L348.65,774.12" stroke="#f26060" stroke-width="0.9" fill="none"/>
<path d="M533.34,744.33L536.74,744.33M535.04,742.63L535.04,746.03M533.85,743.14L536.23,745.52M533.85,745.52L536.23,743.14" stroke="#f26060" stroke-width="0.9" fill="none"/>
<path d="M564.60,732.38L568.00,732.38M566.30,730.68L566.30,734.08M565.11,731.19L567.49,733.57M565.11,733.57L567.49,731.19" stroke="#f26060" stroke-width="0.9" fill="none"/>
<polyline points="316.20,765.23 347.46,764.86 535.04,740.59 566.30,732.38" stroke="#60d4d4" stroke-width="0.95" fill="none"/>
<path d="M316.20,763.63L318.10,765.23L316.20,766.83L314.30,765.23Z" stroke="#60d4d4" stroke-width="0.9" fill="#60d4d4" fill-opacity="0.4"/>
<path d="M347.46,763.26L349.36,764.86L347.46,766.46L345.56,764.86Z" stroke="#60d4d4" stroke-width="0.9" fill="#60d4d4" fill-opacity="0.4"/>
<path d="M535.04,738.99L536.94,740.59L535.04,742.19L533.14,740.59Z" stroke="#60d4d4" stroke-width="0.9" fill="#60d4d4" fill-opacity="0.4"/>
<path d="M566.30,730.78L568.20,732.38L566.30,733.98L564.40,732.38Z" stroke="#60d4d4" stroke-width="0.9" fill="#60d4d4" fill-opacity="0.4"/>
<polyline points="316.20,765.23 347.46,766.73 535.04,742.83 566.30,730.14" stroke="#e068e0" stroke-width="0.95" fill="none"/>
<ellipse cx="316.20" cy="765.23" rx="1.90" ry="1.70" stroke="#e068e0" stroke-width="0.9" fill="none"/>
<ellipse cx="347.46" cy="766.73" rx="1.90" ry="1.70" stroke="#e068e0" stroke-width="0.9" fill="none"/>
<ellipse cx="535.04" cy="742.83" rx="1.90" ry="1.70" stroke="#e068e0" stroke-width="0.9" fill="none"/>
<ellipse cx="566.30" cy="730.14" rx="1.90" ry="1.70" stroke="#e068e0" stroke-width="0.9" fill="none"/>
<polyline points="316.20,777.55 347.46,775.69 535.04,745.07 566.30,733.87" stroke="#d8d860" stroke-width="0.95" fill="none"/>
<rect x="313.80" y="775.85" width="4.80" height="3.40" stroke="#d8d860" stroke-width="0.9" fill="none"/>
<rect x="345.06" y="773.99" width="4.80" height="3.40" stroke="#d8d860" stroke-width="0.9" fill="none"/>
<rect x="532.64" y="743.37" width="4.80" height="3.40" stroke="#d8d860" stroke-width="0.9" fill="none"/>
<rect x="563.90" y="732.17" width="4.80" height="3.40" stroke="#d8d860" stroke-width="0.9" fill="none"/>
<polyline points="316.20,775.69 347.46,774.57 535.04,742.83 566.30,733.13" stroke="#585858" stroke-width="0.95" fill="none"/>
<path d="M316.20,773.79L318.40,777.19L314.00,777.19Z" stroke="#585858" stroke-width="0.9" fill="none"/>
<path d="M347.46,772.67L349.66,776.07L345.26,776.07Z" stroke="#585858" stroke-width="0.9" fill="none"/>
<path d="M535.04,740.93L537.24,744.33L532.84,744.33Z" stroke="#585858" stroke-width="0.9" fill="none"/>
<path d="M566.30,731.23L568.50,734.63L564.10,734.63Z" stroke="#585858" stroke-width="0.9" fill="none"/>
<polyline points="316.20,777.18 347.46,771.95 535.04,702.14 566.30,662.94" stroke="#686ef2" stroke-width="0.95" fill="none"/>
<path d="M314.20,775.08L318.80,777.18L314.20,779.28Z" stroke="#686ef2" stroke-width="0.9" fill="none"/>
<path d="M345.46,769.85L350.06,771.95L345.46,774.05Z" stroke="#686ef2" stroke-width="0.9" fill="none"/>
<path d="M533.04,700.04L537.64,702.14L533.04,704.24Z" stroke="#686ef2" stroke-width="0.9" fill="none"/>
<path d="M564.30,660.84L568.90,662.94L564.30,665.04Z" stroke="#686ef2" stroke-width="0.9" fill="none"/>
<polyline points="316.20,755.75 347.46,754.03 535.04,731.63 566.30,722.67" stroke="#369636" stroke-width="0.95" fill="none"/>
<polygon points="316.20,753.75 316.78,755.02 318.29,755.13 317.14,756.03 317.49,757.37 316.20,756.65 314.91,757.37 315.26,756.03 314.11,755.13 315.62,755.02" stroke="#369636" stroke-width="0.8" fill="#369636" fill-opacity="0.5"/>
<polygon points="347.46,752.03 348.04,753.31 349.55,753.42 348.40,754.31 348.76,755.65 347.46,754.93 346.17,755.65 346.52,754.31 345.37,753.42 346.88,753.31" stroke="#369636" stroke-width="0.8" fill="#369636" fill-opacity="0.5"/>
<polygon points="535.04,729.63 535.62,730.91 537.13,731.02 535.98,731.91 536.33,733.25 535.04,732.53 533.74,733.25 534.10,731.91 532.95,731.02 534.46,730.91" stroke="#369636" stroke-width="0.8" fill="#369636" fill-opacity="0.5"/>
<polygon points="566.30,720.67 566.88,721.95 568.39,722.06 567.24,722.95 567.59,724.29 566.30,723.57 565.01,724.29 565.36,722.95 564.21,722.06 565.72,721.95" stroke="#369636" stroke-width="0.8" fill="#369636" fill-opacity="0.5"/>
<rect x="316.20" y="649.50" width="250.10" height="134.40" stroke="#585858" stroke-width="1.2" fill="none"/>
<path d="M316.20,783.90v-2.2M316.20,649.50v2.2M347.46,783.90v-2.2M347.46,649.50v2.2M378.72,783.90v-2.2M378.72,649.50v2.2M409.99,783.90v-2.2M409.99,649.50v2.2M441.25,783.90v-2.2M441.25,649.50v2.2M472.51,783.90v-2.2M472.51,649.50v2.2M503.77,783.90v-2.2M503.77,649.50v2.2M535.04,783.90v-2.2M535.04,649.50v2.2M566.30,783.90v-2.2M566.30,649.50v2.2M316.20,783.90h2.2M566.30,783.90h-2.2M316.20,768.97h2.2M566.30,768.97h-2.2M316.20,754.03h2.2M566.30,754.03h-2.2M316.20,739.10h2.2M566.30,739.10h-2.2M316.20,724.17h2.2M566.30,724.17h-2.2M316.20,709.23h2.2M566.30,709.23h-2.2M316.20,694.30h2.2M566.30,694.30h-2.2M316.20,679.37h2.2M566.30,679.37h-2.2M316.20,664.43h2.2M566.30,664.43h-2.2M316.20,649.50h2.2M566.30,649.50h-2.2" stroke="#585858" stroke-width="0.8" fill="none"/>
<text transform="translate(316.20,791.30) scale(1.17,1)" font-family="Liberation Sans" font-size="5.8" font-weight="normal" text-anchor="middle" fill="#2a2a3a" stroke="#2a2a3a" stroke-width="0.22">10</text>
<text transform="translate(347.46,791.30) scale(1.17,1)" font-family="Liberation Sans" font-size="5.8" font-weight="normal" text-anchor="middle" fill="#2a2a3a" stroke="#2a2a3a" stroke-width="0.22">20</text>
<text transform="translate(378.72,791.30) scale(1.17,1)" font-family="Liberation Sans" font-size="5.8" font-weight="normal" text-anchor="middle" fill="#2a2a3a" stroke="#2a2a3a" stroke-width="0.22">30</text>
<text transform="translate(409.99,791.30) scale(1.17,1)" font-family="Liberation Sans" font-size="5.8" font-weight="normal" text-anchor="middle" fill="#2a2a3a" stroke="#2a2a3a" stroke-width="0.22">40</text>
<text transform="translate(441.25,791.30) scale(1.17,1)" font-family="Liberation Sans" font-size="5.8" font-weight="normal" text-anchor="middle" fill="#2a2a3a" stroke="#2a2a3a" stroke-width="0.22">50</text>
<text transform="translate(472.51,791.30) scale(1.17,1)" font-family="Liberation Sans" font-size="5.8" font-weight="normal" text-anchor="middle" fill="#2a2a3a" stroke="#2a2a3a" stroke-width="0.22">60</text>
<text transform="translate(503.77,791.30) scale(1.17,1)" font-family="Liberation Sans" font-size="5.8" font-weight="normal" text-anchor="middle" fill="#2a2a3a" stroke="#2a2a3a" stroke-width="0.22">70</text>
<text transform="translate(535.04,791.30) scale(1.17,1)" font-family="Liberation Sans" font-size="5.8" font-weight="normal" text-anchor="middle" fill="#2a2a3a" stroke="#2a2a3a" stroke-width="0.22">80</text>
<text transform="translate(566.30,791.30) scale(1.17,1)" font-family="Liberation Sans" font-size="5.8" font-weight="normal" text-anchor="middle" fill="#2a2a3a" stroke="#2a2a3a" stroke-width="0.22">90</text>
<text transform="translate(313.60,786.20) scale(1.17,1)" font-family="Liberation Sans" font-size="5.8" font-weight="normal" text-anchor="end" fill="#2a2a3a" stroke="#2a2a3a" stroke-width="0.22">0</text>
<text transform="translate(313.60,771.27) scale(1.17,1)" font-family="Liberation Sans" font-size="5.8" font-weight="normal" text-anchor="end" fill="#2a2a3a" stroke="#2a2a3a" stroke-width="0.22">2</text>
<text transform="translate(313.60,756.33) scale(1.17,1)" font-family="Liberation Sans" font-size="5.8" font-weight="normal" text-anchor="end" fill="#2a2a3a" stroke="#2a2a3a" stroke-width="0.22">4</text>
<text transform="translate(313.60,741.40) scale(1.17,1)" font-family="Liberation Sans" font-size="5.8" font-weight="normal" text-anchor="end" fill="#2a2a3a" stroke="#2a2a3a" stroke-width="0.22">6</text>
<text transform="translate(313.60,726.47) scale(1.17,1)" font-family="Liberation Sans" font-size="5.8" font-weight="normal" text-anchor="end" fill="#2a2a3a" stroke="#2a2a3a" stroke-width="0.22">8</text>
<text transform="translate(313.60,711.53) scale(1.17,1)" font-family="Liberation Sans" font-size="5.8" font-weight="normal" text-anchor="end" fill="#2a2a3a" stroke="#2a2a3a" stroke-width="0.22">10</text>
<text transform="translate(313.60,696.60) scale(1.17,1)" font-family="Liberation Sans" font-size="5.8" font-weight="normal" text-anchor="end" fill="#2a2a3a" stroke="#2a2a3a" stroke-width="0.22">12</text>
<text transform="translate(313.60,681.67) scale(1.17,1)" font-family="Liberation Sans" font-size="5.8" font-weight="normal" text-anchor="end" fill="#2a2a3a" stroke="#2a2a3a" stroke-width="0.22">14</text>
<text transform="translate(313.60,666.73) scale(1.17,1)" font-family="Liberation Sans" font-size="5.8" font-weight="normal" text-anchor="end" fill="#2a2a3a" stroke="#2a2a3a" stroke-width="0.22">16</text>
<text transform="translate(313.60,651.80) scale(1.17,1)" font-family="Liberation Sans" font-size="5.8" font-weight="normal" text-anchor="end" fill="#2a2a3a" stroke="#2a2a3a" stroke-width="0.22">18</text>
<text transform="translate(440.80,797.80) scale(1.2223,1)" font-family="Liberation Sans" font-size="6.3" font-weight="normal" text-anchor="middle" fill="#2a2a3a" stroke="#2a2a3a" stroke-width="0.12">impulse noise (%)</text>
<text transform="translate(299.43,717.50) rotate(-90) scale(0.683,1)" font-family="Liberation Sans" font-size="7.5" text-anchor="middle" fill="#2a2a3a" stroke="#2a2a3a" stroke-width="0.3">MAE</text>
<text x="443.00" y="809.40" font-family="Liberation Serif" font-weight="bold" font-size="12" text-anchor="middle" fill="#111">i</text>
</g>
</svg>
</body></html>
